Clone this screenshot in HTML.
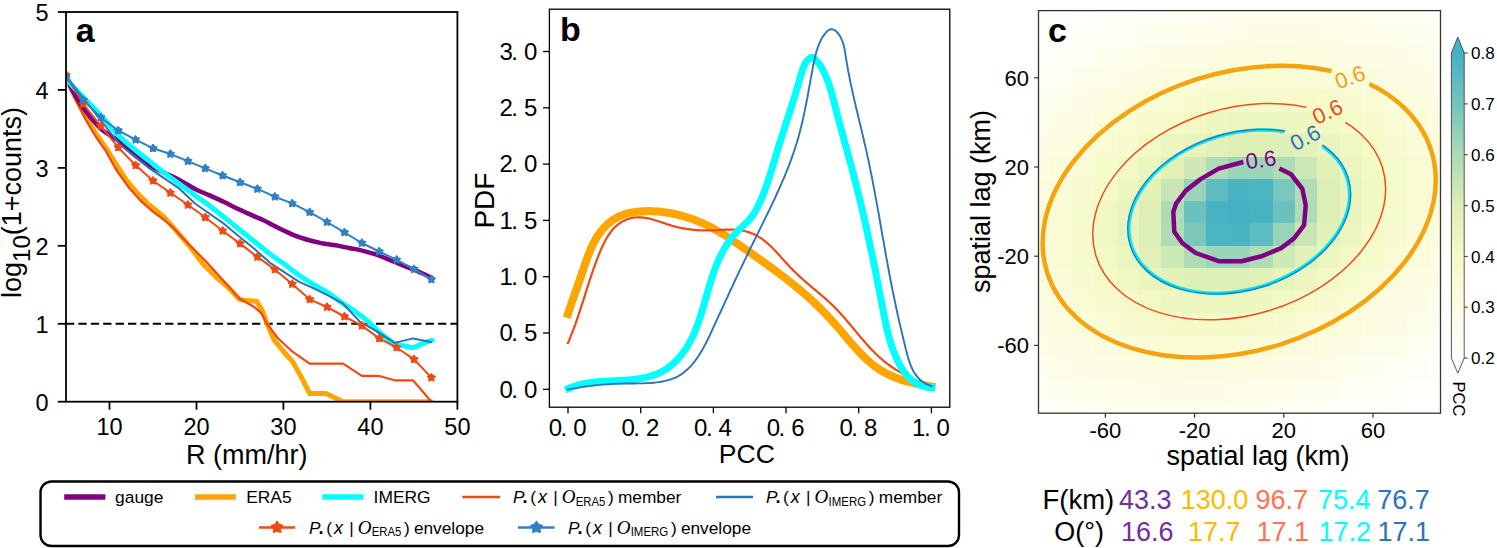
<!DOCTYPE html>
<html><head><meta charset="utf-8"><style>html,body{margin:0;padding:0;background:#fff;}svg{display:block;}</style></head>
<body>
<svg width="1497" height="548" viewBox="0 0 1497 548">
<rect width="1497" height="548" fill="#fff"/>
<defs><clipPath id="ca"><rect x="66" y="12" width="391.4" height="389.7"/></clipPath>
<clipPath id="cb"><rect x="549.4" y="9.2" width="400.4" height="398"/></clipPath>
<clipPath id="cc"><rect x="1038.5" y="10.6" width="402" height="402.6"/></clipPath></defs>
<g clip-path="url(#ca)" fill="none" stroke-linejoin="round" stroke-linecap="round">
<line x1="66" y1="323.8" x2="457.4" y2="323.8" stroke="#000" stroke-width="2" stroke-dasharray="8.3,4.1" stroke-linecap="butt"/>
<path d="M66.0,76.0 L67.6,80.0 L75.0,97.0 L85.9,117.4 L96.0,134.0 L107.3,150.0 L114.6,161.7 L121.9,173.4 L129.2,183.6 L138.0,193.8 L146.7,202.6 L155.5,209.9 L164.2,217.2 L170.0,223.6 L181.0,236.4 L191.9,249.2 L202.8,263.8 L215.6,276.6 L228.4,287.5 L239.3,299.4 L246.6,300.6 L256.7,301.2 L262.7,311.5 L267.5,324.9 L274.2,340.2 L283.7,351.7 L292.4,361.3 L301.0,376.6 L309.6,393.5 L325.9,393.5 L343.0,401.7 L431.4,401.7" stroke="#ffa500" stroke-width="5"/>
<path d="M66.0,77.0 L67.6,80.0 L75.0,98.0 L85.9,120.0 L96.0,137.0 L105.1,150.0 L117.5,171.9 L129.2,188.0 L140.9,201.1 L152.6,211.3 L164.2,220.0 L173.0,227.4 L188.2,243.7 L206.5,262.0 L224.7,282.0 L239.3,298.5 L253.9,306.7 L261.2,313.1 L266.5,323.0 L278.0,338.3 L291.4,350.8 L309.6,363.6 L343.1,363.6 L361.9,375.8 L378.3,375.8 L394.7,380.3 L413.0,380.3 L431.4,401.7" stroke="#f04a14" stroke-width="2.2"/>
<path d="M70.0,86.0 C72.0,89.4 77.1,99.4 82.2,106.5 C87.3,113.6 94.2,122.5 100.5,128.4 C106.8,134.3 114.3,137.5 120.0,141.9 C125.7,146.3 129.7,151.1 134.6,155.0 C139.5,158.9 144.3,162.4 149.2,165.3 C154.1,168.2 158.9,170.2 163.8,172.6 C168.7,175.0 173.2,176.8 178.4,179.5 C183.6,182.2 189.8,186.2 195.0,188.9 C200.2,191.6 204.7,193.2 209.6,195.4 C214.5,197.6 219.3,199.7 224.2,202.0 C229.1,204.3 233.9,207.0 238.8,209.3 C243.7,211.6 249.2,214.0 253.4,215.9 C257.6,217.8 260.4,218.8 264.0,220.5 C267.6,222.2 270.4,224.0 275.0,226.3 C279.6,228.6 286.6,232.1 291.9,234.3 C297.1,236.5 301.6,238.0 306.5,239.5 C311.4,241.0 316.2,242.1 321.1,243.1 C326.0,244.1 330.9,244.5 335.7,245.3 C340.5,246.2 346.2,247.5 350.0,248.2 C353.8,248.9 353.8,248.5 358.2,249.6 C362.6,250.7 370.4,252.6 376.5,254.7 C382.6,256.8 388.6,259.6 394.7,262.0 C400.8,264.4 406.9,266.7 413.0,269.3 C419.1,271.9 428.3,276.1 431.4,277.5" stroke="#800080" stroke-width="4.5"/>
<path d="M66.0,73.0 C66.3,73.8 66.7,76.1 67.6,78.0 C68.5,79.9 68.4,81.1 71.3,84.6 C74.2,88.1 80.1,93.9 85.0,99.0 C89.9,104.1 94.7,108.7 100.5,115.0 C106.3,121.3 114.3,131.1 120.0,136.8 C125.7,142.5 129.7,145.2 134.6,149.2 C139.5,153.2 144.3,157.0 149.2,160.9 C154.1,164.8 158.9,168.9 163.8,172.6 C168.7,176.3 173.2,179.4 178.4,183.2 C183.6,187.0 189.8,191.7 195.0,195.4 C200.2,199.2 204.7,202.0 209.6,205.7 C214.5,209.3 219.3,213.4 224.2,217.3 C229.1,221.2 233.9,225.1 238.8,229.0 C243.7,232.9 248.2,236.5 253.4,240.7 C258.6,244.9 264.8,250.2 270.0,254.1 C275.2,258.0 279.7,260.8 284.6,264.3 C289.5,267.8 294.3,271.9 299.2,275.3 C304.1,278.7 308.9,281.8 313.8,284.7 C318.7,287.6 324.0,290.0 328.4,292.8 C332.8,295.6 335.6,298.5 340.0,301.5 C344.4,304.5 350.0,307.8 354.6,311.0 C359.2,314.2 363.1,317.4 367.4,321.0 C371.6,324.6 375.6,329.1 380.1,332.9 C384.7,336.7 390.7,341.7 394.7,343.8 C398.7,345.9 400.8,345.1 403.9,345.7 C406.9,346.3 410.0,347.8 413.0,347.5 C416.0,347.2 418.9,345.0 422.1,343.8 C425.3,342.6 430.5,340.8 432.2,340.2" stroke="#00ffff" stroke-width="5"/>
<path d="M66.0,76.0 L80.0,94.0 L100.5,120.0 L120.0,144.8 L149.2,168.2 L178.4,187.8 L195.0,203.5 L209.6,213.7 L224.2,223.9 L238.8,236.3 L253.4,248.0 L270.0,262.8 L284.6,272.3 L299.2,281.8 L313.8,288.4 L328.4,295.7 L343.0,303.7 L360.1,321.9 L376.5,331.1 L394.7,342.9 L413.0,338.4 L431.2,342.0" stroke="#2a73b6" stroke-width="2"/>
<path d="M66.0,75.0 L83.4,104.0 L100.8,126.0 L118.2,147.4 L135.6,165.3 L153.0,180.7 L170.4,192.8 L187.8,204.8 L205.2,217.3 L222.6,230.8 L240.0,243.6 L257.4,256.9 L274.8,269.4 L292.2,284.0 L309.6,299.3 L327.0,307.0 L344.4,316.5 L361.8,325.6 L379.2,338.4 L396.6,347.5 L414.0,359.3 L431.4,377.6" stroke="#f04a14" stroke-width="2"/>
<path d="M66.0,77.0 L83.4,100.1 L100.8,117.5 L118.2,130.5 L135.6,139.7 L153.0,148.3 L170.4,154.0 L187.8,161.1 L205.2,168.3 L222.6,175.5 L240.0,182.3 L257.4,188.9 L274.8,196.7 L292.2,203.4 L309.6,212.2 L327.0,222.0 L344.4,232.3 L361.8,243.0 L379.2,251.5 L396.6,259.8 L414.0,269.2 L431.4,279.4" stroke="#3080c4" stroke-width="2"/>
</g>
<g clip-path="url(#ca)">
<polygon points="66.0,70.6 67.6,72.9 70.2,73.6 68.5,75.8 68.6,78.6 66.0,77.6 63.4,78.6 63.5,75.8 61.8,73.6 64.4,72.9" fill="#f04a14" stroke="#f04a14" stroke-width="1"/>
<polygon points="83.4,99.6 85.0,101.9 87.6,102.6 85.9,104.8 86.0,107.6 83.4,106.6 80.8,107.6 80.9,104.8 79.2,102.6 81.8,101.9" fill="#f04a14" stroke="#f04a14" stroke-width="1"/>
<polygon points="100.8,121.6 102.4,123.9 105.0,124.6 103.3,126.8 103.4,129.6 100.8,128.6 98.2,129.6 98.3,126.8 96.6,124.6 99.2,123.9" fill="#f04a14" stroke="#f04a14" stroke-width="1"/>
<polygon points="118.2,143.0 119.8,145.3 122.4,146.0 120.7,148.2 120.8,151.0 118.2,150.0 115.6,151.0 115.7,148.2 114.0,146.0 116.6,145.3" fill="#f04a14" stroke="#f04a14" stroke-width="1"/>
<polygon points="135.6,160.9 137.2,163.2 139.8,163.9 138.1,166.1 138.2,168.9 135.6,167.9 133.0,168.9 133.1,166.1 131.4,163.9 134.0,163.2" fill="#f04a14" stroke="#f04a14" stroke-width="1"/>
<polygon points="153.0,176.3 154.6,178.6 157.2,179.3 155.5,181.5 155.6,184.3 153.0,183.3 150.4,184.3 150.5,181.5 148.8,179.3 151.4,178.6" fill="#f04a14" stroke="#f04a14" stroke-width="1"/>
<polygon points="170.4,188.4 172.0,190.7 174.6,191.4 172.9,193.6 173.0,196.4 170.4,195.4 167.8,196.4 167.9,193.6 166.2,191.4 168.8,190.7" fill="#f04a14" stroke="#f04a14" stroke-width="1"/>
<polygon points="187.8,200.4 189.4,202.7 192.0,203.4 190.3,205.6 190.4,208.4 187.8,207.4 185.2,208.4 185.3,205.6 183.6,203.4 186.2,202.7" fill="#f04a14" stroke="#f04a14" stroke-width="1"/>
<polygon points="205.2,212.9 206.8,215.2 209.4,215.9 207.7,218.1 207.8,220.9 205.2,219.9 202.6,220.9 202.7,218.1 201.0,215.9 203.6,215.2" fill="#f04a14" stroke="#f04a14" stroke-width="1"/>
<polygon points="222.6,226.4 224.2,228.7 226.8,229.4 225.1,231.6 225.2,234.4 222.6,233.4 220.0,234.4 220.1,231.6 218.4,229.4 221.0,228.7" fill="#f04a14" stroke="#f04a14" stroke-width="1"/>
<polygon points="240.0,239.2 241.6,241.5 244.2,242.2 242.5,244.4 242.6,247.2 240.0,246.2 237.4,247.2 237.5,244.4 235.8,242.2 238.4,241.5" fill="#f04a14" stroke="#f04a14" stroke-width="1"/>
<polygon points="257.4,252.5 259.0,254.8 261.6,255.5 259.9,257.7 260.0,260.5 257.4,259.5 254.8,260.5 254.9,257.7 253.2,255.5 255.8,254.8" fill="#f04a14" stroke="#f04a14" stroke-width="1"/>
<polygon points="274.8,265.0 276.4,267.3 279.0,268.0 277.3,270.2 277.4,273.0 274.8,272.0 272.2,273.0 272.3,270.2 270.6,268.0 273.2,267.3" fill="#f04a14" stroke="#f04a14" stroke-width="1"/>
<polygon points="292.2,279.6 293.8,281.9 296.4,282.6 294.7,284.8 294.8,287.6 292.2,286.6 289.6,287.6 289.7,284.8 288.0,282.6 290.6,281.9" fill="#f04a14" stroke="#f04a14" stroke-width="1"/>
<polygon points="309.6,294.9 311.2,297.2 313.8,297.9 312.1,300.1 312.2,302.9 309.6,301.9 307.0,302.9 307.1,300.1 305.4,297.9 308.0,297.2" fill="#f04a14" stroke="#f04a14" stroke-width="1"/>
<polygon points="327.0,302.6 328.6,304.9 331.2,305.6 329.5,307.8 329.6,310.6 327.0,309.6 324.4,310.6 324.5,307.8 322.8,305.6 325.4,304.9" fill="#f04a14" stroke="#f04a14" stroke-width="1"/>
<polygon points="344.4,312.1 346.0,314.4 348.6,315.1 346.9,317.3 347.0,320.1 344.4,319.1 341.8,320.1 341.9,317.3 340.2,315.1 342.8,314.4" fill="#f04a14" stroke="#f04a14" stroke-width="1"/>
<polygon points="361.8,321.2 363.4,323.5 366.0,324.2 364.3,326.4 364.4,329.2 361.8,328.2 359.2,329.2 359.3,326.4 357.6,324.2 360.2,323.5" fill="#f04a14" stroke="#f04a14" stroke-width="1"/>
<polygon points="379.2,334.0 380.8,336.3 383.4,337.0 381.7,339.2 381.8,342.0 379.2,341.0 376.6,342.0 376.7,339.2 375.0,337.0 377.6,336.3" fill="#f04a14" stroke="#f04a14" stroke-width="1"/>
<polygon points="396.6,343.1 398.2,345.4 400.8,346.1 399.1,348.3 399.2,351.1 396.6,350.1 394.0,351.1 394.1,348.3 392.4,346.1 395.0,345.4" fill="#f04a14" stroke="#f04a14" stroke-width="1"/>
<polygon points="414.0,354.9 415.6,357.2 418.2,357.9 416.5,360.1 416.6,362.9 414.0,361.9 411.4,362.9 411.5,360.1 409.8,357.9 412.4,357.2" fill="#f04a14" stroke="#f04a14" stroke-width="1"/>
<polygon points="431.4,373.2 433.0,375.5 435.6,376.2 433.9,378.4 434.0,381.2 431.4,380.2 428.8,381.2 428.9,378.4 427.2,376.2 429.8,375.5" fill="#f04a14" stroke="#f04a14" stroke-width="1"/>
<polygon points="66.0,72.6 67.6,74.9 70.2,75.6 68.5,77.8 68.6,80.6 66.0,79.6 63.4,80.6 63.5,77.8 61.8,75.6 64.4,74.9" fill="#3080c4" stroke="#3080c4" stroke-width="1"/>
<polygon points="83.4,95.7 85.0,98.0 87.6,98.7 85.9,100.9 86.0,103.7 83.4,102.7 80.8,103.7 80.9,100.9 79.2,98.7 81.8,98.0" fill="#3080c4" stroke="#3080c4" stroke-width="1"/>
<polygon points="100.8,113.1 102.4,115.4 105.0,116.1 103.3,118.3 103.4,121.1 100.8,120.1 98.2,121.1 98.3,118.3 96.6,116.1 99.2,115.4" fill="#3080c4" stroke="#3080c4" stroke-width="1"/>
<polygon points="118.2,126.1 119.8,128.4 122.4,129.1 120.7,131.3 120.8,134.1 118.2,133.1 115.6,134.1 115.7,131.3 114.0,129.1 116.6,128.4" fill="#3080c4" stroke="#3080c4" stroke-width="1"/>
<polygon points="135.6,135.3 137.2,137.6 139.8,138.3 138.1,140.5 138.2,143.3 135.6,142.3 133.0,143.3 133.1,140.5 131.4,138.3 134.0,137.6" fill="#3080c4" stroke="#3080c4" stroke-width="1"/>
<polygon points="153.0,143.9 154.6,146.2 157.2,146.9 155.5,149.1 155.6,151.9 153.0,150.9 150.4,151.9 150.5,149.1 148.8,146.9 151.4,146.2" fill="#3080c4" stroke="#3080c4" stroke-width="1"/>
<polygon points="170.4,149.6 172.0,151.9 174.6,152.6 172.9,154.8 173.0,157.6 170.4,156.6 167.8,157.6 167.9,154.8 166.2,152.6 168.8,151.9" fill="#3080c4" stroke="#3080c4" stroke-width="1"/>
<polygon points="187.8,156.7 189.4,159.0 192.0,159.7 190.3,161.9 190.4,164.7 187.8,163.7 185.2,164.7 185.3,161.9 183.6,159.7 186.2,159.0" fill="#3080c4" stroke="#3080c4" stroke-width="1"/>
<polygon points="205.2,163.9 206.8,166.2 209.4,166.9 207.7,169.1 207.8,171.9 205.2,170.9 202.6,171.9 202.7,169.1 201.0,166.9 203.6,166.2" fill="#3080c4" stroke="#3080c4" stroke-width="1"/>
<polygon points="222.6,171.1 224.2,173.4 226.8,174.1 225.1,176.3 225.2,179.1 222.6,178.1 220.0,179.1 220.1,176.3 218.4,174.1 221.0,173.4" fill="#3080c4" stroke="#3080c4" stroke-width="1"/>
<polygon points="240.0,177.9 241.6,180.2 244.2,180.9 242.5,183.1 242.6,185.9 240.0,184.9 237.4,185.9 237.5,183.1 235.8,180.9 238.4,180.2" fill="#3080c4" stroke="#3080c4" stroke-width="1"/>
<polygon points="257.4,184.5 259.0,186.8 261.6,187.5 259.9,189.7 260.0,192.5 257.4,191.5 254.8,192.5 254.9,189.7 253.2,187.5 255.8,186.8" fill="#3080c4" stroke="#3080c4" stroke-width="1"/>
<polygon points="274.8,192.3 276.4,194.6 279.0,195.3 277.3,197.5 277.4,200.3 274.8,199.3 272.2,200.3 272.3,197.5 270.6,195.3 273.2,194.6" fill="#3080c4" stroke="#3080c4" stroke-width="1"/>
<polygon points="292.2,199.0 293.8,201.3 296.4,202.0 294.7,204.2 294.8,207.0 292.2,206.0 289.6,207.0 289.7,204.2 288.0,202.0 290.6,201.3" fill="#3080c4" stroke="#3080c4" stroke-width="1"/>
<polygon points="309.6,207.8 311.2,210.1 313.8,210.8 312.1,213.0 312.2,215.8 309.6,214.8 307.0,215.8 307.1,213.0 305.4,210.8 308.0,210.1" fill="#3080c4" stroke="#3080c4" stroke-width="1"/>
<polygon points="327.0,217.6 328.6,219.9 331.2,220.6 329.5,222.8 329.6,225.6 327.0,224.6 324.4,225.6 324.5,222.8 322.8,220.6 325.4,219.9" fill="#3080c4" stroke="#3080c4" stroke-width="1"/>
<polygon points="344.4,227.9 346.0,230.2 348.6,230.9 346.9,233.1 347.0,235.9 344.4,234.9 341.8,235.9 341.9,233.1 340.2,230.9 342.8,230.2" fill="#3080c4" stroke="#3080c4" stroke-width="1"/>
<polygon points="361.8,238.6 363.4,240.9 366.0,241.6 364.3,243.8 364.4,246.6 361.8,245.6 359.2,246.6 359.3,243.8 357.6,241.6 360.2,240.9" fill="#3080c4" stroke="#3080c4" stroke-width="1"/>
<polygon points="379.2,247.1 380.8,249.4 383.4,250.1 381.7,252.3 381.8,255.1 379.2,254.1 376.6,255.1 376.7,252.3 375.0,250.1 377.6,249.4" fill="#3080c4" stroke="#3080c4" stroke-width="1"/>
<polygon points="396.6,255.4 398.2,257.7 400.8,258.4 399.1,260.6 399.2,263.4 396.6,262.4 394.0,263.4 394.1,260.6 392.4,258.4 395.0,257.7" fill="#3080c4" stroke="#3080c4" stroke-width="1"/>
<polygon points="414.0,264.8 415.6,267.1 418.2,267.8 416.5,270.0 416.6,272.8 414.0,271.8 411.4,272.8 411.5,270.0 409.8,267.8 412.4,267.1" fill="#3080c4" stroke="#3080c4" stroke-width="1"/>
<polygon points="431.4,275.0 433.0,277.3 435.6,278.0 433.9,280.2 434.0,283.0 431.4,282.0 428.8,283.0 428.9,280.2 427.2,278.0 429.8,277.3" fill="#3080c4" stroke="#3080c4" stroke-width="1"/>
</g>
<rect x="66" y="12" width="391.4" height="389.7" fill="none" stroke="#000" stroke-width="1.8"/>
<line x1="57.8" y1="401.7" x2="66" y2="401.7" stroke="#000" stroke-width="1.8"/>
<text x="48.5" y="410.5" font-size="23.5" text-anchor="end" font-family="Liberation Sans, sans-serif">0</text>
<line x1="57.8" y1="323.8" x2="66" y2="323.8" stroke="#000" stroke-width="1.8"/>
<text x="48.5" y="332.6" font-size="23.5" text-anchor="end" font-family="Liberation Sans, sans-serif">1</text>
<line x1="57.8" y1="245.8" x2="66" y2="245.8" stroke="#000" stroke-width="1.8"/>
<text x="48.5" y="254.6" font-size="23.5" text-anchor="end" font-family="Liberation Sans, sans-serif">2</text>
<line x1="57.8" y1="167.9" x2="66" y2="167.9" stroke="#000" stroke-width="1.8"/>
<text x="48.5" y="176.7" font-size="23.5" text-anchor="end" font-family="Liberation Sans, sans-serif">3</text>
<line x1="57.8" y1="89.9" x2="66" y2="89.9" stroke="#000" stroke-width="1.8"/>
<text x="48.5" y="98.7" font-size="23.5" text-anchor="end" font-family="Liberation Sans, sans-serif">4</text>
<line x1="57.8" y1="12.0" x2="66" y2="12.0" stroke="#000" stroke-width="1.8"/>
<text x="48.5" y="20.8" font-size="23.5" text-anchor="end" font-family="Liberation Sans, sans-serif">5</text>
<line x1="109.5" y1="401.7" x2="109.5" y2="409.7" stroke="#000" stroke-width="1.8"/>
<text x="109.5" y="434.8" font-size="23.5" text-anchor="middle" font-family="Liberation Sans, sans-serif">10</text>
<line x1="196.5" y1="401.7" x2="196.5" y2="409.7" stroke="#000" stroke-width="1.8"/>
<text x="196.5" y="434.8" font-size="23.5" text-anchor="middle" font-family="Liberation Sans, sans-serif">20</text>
<line x1="283.4" y1="401.7" x2="283.4" y2="409.7" stroke="#000" stroke-width="1.8"/>
<text x="283.4" y="434.8" font-size="23.5" text-anchor="middle" font-family="Liberation Sans, sans-serif">30</text>
<line x1="370.4" y1="401.7" x2="370.4" y2="409.7" stroke="#000" stroke-width="1.8"/>
<text x="370.4" y="434.8" font-size="23.5" text-anchor="middle" font-family="Liberation Sans, sans-serif">40</text>
<line x1="457.4" y1="401.7" x2="457.4" y2="409.7" stroke="#000" stroke-width="1.8"/>
<text x="457.4" y="434.8" font-size="23.5" text-anchor="middle" font-family="Liberation Sans, sans-serif">50</text>
<text x="186" y="463.6" font-size="27" font-family="Liberation Sans, sans-serif">R (mm/hr)</text>
<g transform="translate(20.5,298) rotate(-90)"><text x="0" y="0" font-size="27" font-family="Liberation Sans, sans-serif">log<tspan font-size="24" dy="9">10</tspan><tspan dy="-9">(1+counts)</tspan></text></g>
<text x="75.8" y="42.3" font-size="34" font-weight="bold" font-family="Liberation Sans, sans-serif">a</text>
<g clip-path="url(#cb)" fill="none" stroke-linejoin="round" stroke-linecap="square">
<path d="M567.9,313.9 L568.4,312.3 L568.9,310.8 L569.4,309.3 L569.9,307.7 L570.5,306.2 L571.0,304.7 L571.5,303.2 L572.0,301.7 L572.6,300.2 L573.1,298.7 L573.6,297.2 L574.2,295.6 L574.7,294.1 L575.2,292.6 L575.8,291.1 L576.3,289.6 L576.8,288.1 L577.4,286.6 L577.9,285.1 L578.4,283.6 L579.0,282.1 L579.5,280.5 L580.0,279.0 L580.5,277.5 L581.1,275.9 L581.6,274.4 L582.1,272.8 L582.6,271.2 L583.2,269.7 L583.7,268.1 L584.2,266.5 L584.8,264.9 L585.3,263.3 L585.9,261.7 L586.4,260.1 L587.0,258.6 L587.6,257.0 L588.2,255.4 L588.8,253.9 L589.4,252.3 L590.0,250.8 L590.7,249.2 L591.3,247.7 L592.0,246.2 L592.7,244.7 L593.5,243.2 L594.2,241.8 L595.0,240.3 L595.8,238.9 L596.7,237.5 L597.5,236.1 L598.4,234.8 L599.3,233.5 L600.3,232.2 L601.3,230.9 L602.3,229.6 L603.4,228.4 L604.4,227.3 L605.5,226.1 L606.7,225.0 L607.8,223.9 L609.0,222.9 L610.2,221.9 L611.5,221.0 L612.8,220.1 L614.1,219.2 L615.4,218.4 L616.7,217.6 L618.1,216.9 L619.5,216.2 L621.0,215.6 L622.4,215.0 L623.9,214.5 L625.4,214.0 L626.9,213.6 L628.4,213.2 L630.0,212.9 L631.6,212.6 L633.1,212.3 L634.7,212.1 L636.3,211.9 L637.9,211.7 L639.5,211.5 L641.2,211.4 L642.8,211.3 L644.4,211.2 L646.0,211.2 L647.7,211.1 L649.3,211.1 L650.9,211.2 L652.6,211.2 L654.2,211.3 L655.9,211.4 L657.5,211.5 L659.1,211.6 L660.8,211.8 L662.4,212.0 L664.1,212.2 L665.7,212.4 L667.3,212.7 L669.0,212.9 L670.6,213.2 L672.2,213.5 L673.9,213.9 L675.5,214.2 L677.1,214.6 L678.7,215.0 L680.3,215.4 L681.9,215.8 L683.5,216.3 L685.1,216.7 L686.7,217.2 L688.3,217.7 L689.8,218.2 L691.4,218.8 L693.0,219.3 L694.5,219.9 L696.1,220.5 L697.6,221.1 L699.1,221.7 L700.6,222.4 L702.1,223.0 L703.6,223.7 L705.1,224.3 L706.5,225.0 L708.0,225.7 L709.4,226.5 L710.8,227.2 L712.3,227.9 L713.7,228.7 L715.1,229.5 L716.5,230.3 L717.9,231.1 L719.2,231.9 L720.6,232.7 L722.0,233.5 L723.3,234.3 L724.7,235.2 L726.0,236.0 L727.3,236.9 L728.7,237.7 L730.0,238.6 L731.3,239.5 L732.7,240.4 L734.0,241.3 L735.3,242.2 L736.6,243.1 L737.9,244.0 L739.2,244.9 L740.5,245.8 L741.8,246.7 L743.2,247.7 L744.5,248.6 L745.8,249.5 L747.1,250.4 L748.4,251.4 L749.7,252.3 L751.1,253.2 L752.4,254.2 L753.7,255.1 L755.0,256.1 L756.4,257.0 L757.7,257.9 L759.0,258.9 L760.3,259.8 L761.7,260.8 L763.0,261.7 L764.3,262.7 L765.7,263.6 L767.0,264.6 L768.3,265.5 L769.6,266.5 L771.0,267.5 L772.3,268.4 L773.6,269.4 L774.9,270.4 L776.2,271.3 L777.6,272.3 L778.9,273.3 L780.2,274.3 L781.5,275.3 L782.8,276.3 L784.1,277.2 L785.4,278.2 L786.7,279.2 L788.0,280.2 L789.2,281.2 L790.5,282.3 L791.8,283.3 L793.1,284.3 L794.3,285.3 L795.6,286.3 L796.8,287.4 L798.1,288.4 L799.3,289.4 L800.6,290.5 L801.8,291.5 L803.0,292.6 L804.2,293.6 L805.5,294.7 L806.7,295.7 L807.9,296.8 L809.1,297.9 L810.2,298.9 L811.4,300.0 L812.6,301.1 L813.8,302.2 L814.9,303.3 L816.1,304.4 L817.3,305.5 L818.4,306.6 L819.6,307.8 L820.7,308.9 L821.8,310.0 L823.0,311.2 L824.1,312.3 L825.2,313.5 L826.3,314.6 L827.4,315.8 L828.5,317.0 L829.6,318.1 L830.7,319.3 L831.8,320.5 L832.9,321.7 L834.0,322.9 L835.0,324.1 L836.1,325.4 L837.2,326.6 L838.2,327.8 L839.3,329.1 L840.4,330.3 L841.4,331.6 L842.5,332.8 L843.5,334.1 L844.6,335.3 L845.6,336.6 L846.7,337.8 L847.8,339.1 L848.8,340.3 L849.9,341.6 L851.0,342.8 L852.0,344.1 L853.1,345.3 L854.2,346.5 L855.3,347.7 L856.4,349.0 L857.5,350.2 L858.6,351.3 L859.7,352.5 L860.8,353.7 L862.0,354.9 L863.1,356.0 L864.3,357.1 L865.4,358.2 L866.6,359.3 L867.8,360.4 L869.0,361.5 L870.2,362.5 L871.5,363.6 L872.7,364.6 L874.0,365.6 L875.3,366.5 L876.6,367.5 L877.9,368.4 L879.2,369.3 L880.6,370.1 L881.9,371.0 L883.3,371.8 L884.7,372.6 L886.2,373.3 L887.6,374.1 L889.1,374.8 L890.5,375.5 L892.0,376.1 L893.5,376.8 L895.1,377.4 L896.6,378.0 L898.1,378.5 L899.7,379.1 L901.3,379.6 L902.8,380.1 L904.4,380.6 L906.0,381.1 L907.6,381.5 L909.2,381.9 L910.8,382.4 L912.4,382.8 L914.0,383.1 L915.6,383.5 L917.2,383.9 L918.8,384.2 L920.4,384.5 L922.0,384.8 L923.5,385.1 L925.1,385.4 L926.7,385.7 L928.3,386.0 L929.9,386.2 L931.4,386.5" stroke="#ffa500" stroke-width="8"/>
<path d="M567.9,343.1 L568.6,341.5 L569.3,339.8 L569.9,338.2 L570.6,336.6 L571.2,335.0 L571.9,333.4 L572.5,331.8 L573.1,330.2 L573.7,328.5 L574.3,326.9 L574.9,325.3 L575.5,323.8 L576.0,322.2 L576.6,320.6 L577.1,319.0 L577.7,317.4 L578.2,315.8 L578.8,314.2 L579.3,312.6 L579.8,311.1 L580.3,309.5 L580.8,307.9 L581.3,306.3 L581.8,304.7 L582.4,303.2 L582.9,301.6 L583.4,300.0 L583.9,298.4 L584.4,296.8 L584.9,295.3 L585.4,293.7 L585.9,292.1 L586.4,290.5 L586.9,288.9 L587.4,287.3 L587.9,285.8 L588.4,284.2 L588.9,282.6 L589.4,281.0 L589.9,279.4 L590.5,277.8 L591.0,276.2 L591.6,274.6 L592.1,272.9 L592.7,271.3 L593.2,269.7 L593.8,268.1 L594.4,266.5 L595.0,264.8 L595.6,263.2 L596.2,261.5 L596.8,259.9 L597.4,258.2 L598.1,256.6 L598.7,254.9 L599.4,253.3 L600.1,251.6 L600.8,249.9 L601.5,248.3 L602.2,246.7 L603.0,245.0 L603.8,243.4 L604.6,241.9 L605.4,240.3 L606.3,238.8 L607.2,237.3 L608.1,235.8 L609.0,234.4 L610.0,233.0 L611.0,231.6 L612.0,230.3 L613.1,229.0 L614.2,227.8 L615.4,226.7 L616.6,225.6 L617.8,224.6 L619.1,223.6 L620.4,222.7 L621.8,221.9 L623.2,221.1 L624.6,220.4 L626.0,219.8 L627.5,219.2 L629.0,218.7 L630.6,218.3 L632.1,217.9 L633.7,217.7 L635.3,217.5 L636.9,217.3 L638.6,217.3 L640.2,217.3 L641.8,217.4 L643.5,217.6 L645.1,217.8 L646.8,218.1 L648.4,218.4 L650.1,218.8 L651.8,219.2 L653.5,219.7 L655.1,220.2 L656.8,220.7 L658.5,221.3 L660.2,221.8 L661.9,222.4 L663.6,222.9 L665.2,223.5 L666.9,224.1 L668.6,224.6 L670.3,225.1 L671.9,225.7 L673.6,226.1 L675.2,226.6 L676.9,227.0 L678.5,227.4 L680.2,227.8 L681.8,228.1 L683.5,228.4 L685.1,228.7 L686.8,229.0 L688.4,229.2 L690.0,229.4 L691.7,229.6 L693.3,229.8 L695.0,229.9 L696.6,230.1 L698.2,230.2 L699.9,230.3 L701.5,230.3 L703.2,230.4 L704.9,230.4 L706.5,230.4 L708.2,230.4 L709.9,230.4 L711.5,230.4 L713.2,230.3 L714.9,230.3 L716.6,230.2 L718.3,230.1 L720.0,230.0 L721.7,229.9 L723.5,229.8 L725.2,229.7 L726.9,229.6 L728.6,229.6 L730.3,229.6 L732.0,229.6 L733.7,229.6 L735.4,229.7 L737.1,229.8 L738.8,230.0 L740.4,230.2 L742.1,230.5 L743.7,230.8 L745.3,231.2 L746.9,231.6 L748.5,232.1 L750.0,232.6 L751.6,233.2 L753.1,233.8 L754.6,234.5 L756.0,235.2 L757.4,236.0 L758.8,236.9 L760.2,237.7 L761.6,238.7 L762.9,239.6 L764.2,240.6 L765.5,241.7 L766.8,242.7 L768.1,243.8 L769.3,245.0 L770.6,246.1 L771.8,247.3 L773.0,248.5 L774.2,249.7 L775.4,251.0 L776.6,252.2 L777.7,253.5 L778.9,254.8 L780.1,256.1 L781.2,257.4 L782.4,258.7 L783.6,260.0 L784.7,261.3 L785.9,262.6 L787.1,263.8 L788.3,265.1 L789.4,266.4 L790.6,267.7 L791.8,268.9 L793.0,270.1 L794.2,271.4 L795.5,272.6 L796.7,273.7 L797.9,274.9 L799.2,276.1 L800.4,277.2 L801.7,278.3 L803.0,279.5 L804.2,280.6 L805.5,281.7 L806.8,282.8 L808.1,283.9 L809.3,285.0 L810.6,286.1 L811.9,287.2 L813.2,288.3 L814.5,289.3 L815.8,290.4 L817.0,291.5 L818.3,292.6 L819.6,293.7 L820.9,294.7 L822.1,295.8 L823.4,296.9 L824.7,298.0 L825.9,299.1 L827.2,300.3 L828.4,301.4 L829.6,302.5 L830.8,303.6 L832.1,304.8 L833.3,306.0 L834.5,307.1 L835.6,308.3 L836.8,309.5 L838.0,310.8 L839.1,312.0 L840.3,313.2 L841.4,314.5 L842.5,315.7 L843.7,317.0 L844.8,318.3 L845.9,319.6 L847.0,320.9 L848.1,322.2 L849.2,323.5 L850.3,324.8 L851.4,326.1 L852.5,327.4 L853.6,328.7 L854.7,330.0 L855.8,331.4 L856.9,332.7 L857.9,334.0 L859.0,335.3 L860.1,336.6 L861.2,337.9 L862.4,339.2 L863.5,340.5 L864.6,341.8 L865.7,343.1 L866.8,344.4 L868.0,345.6 L869.1,346.9 L870.3,348.1 L871.4,349.4 L872.6,350.6 L873.8,351.8 L875.0,353.0 L876.2,354.2 L877.4,355.3 L878.6,356.5 L879.9,357.6 L881.2,358.7 L882.4,359.8 L883.7,360.9 L885.0,362.0 L886.4,363.0 L887.7,364.0 L889.0,365.0 L890.4,366.0 L891.8,367.0 L893.2,367.9 L894.6,368.8 L896.0,369.8 L897.5,370.6 L898.9,371.5 L900.4,372.4 L901.8,373.2 L903.3,374.0 L904.8,374.8 L906.3,375.6 L907.8,376.4 L909.3,377.1 L910.9,377.9 L912.4,378.6 L913.9,379.3 L915.5,380.0 L917.1,380.7 L918.6,381.3 L920.2,382.0 L921.8,382.6 L923.4,383.2 L925.0,383.8 L926.6,384.4 L928.2,384.9 L929.8,385.5 L931.4,386.0" stroke="#f04a14" stroke-width="2.2"/>
<path d="M568.4,388.6 L570.8,387.6 L573.2,386.6 L575.7,385.8 L578.3,385.0 L580.8,384.4 L583.5,383.8 L586.1,383.3 L588.8,382.8 L591.5,382.5 L594.2,382.1 L597.0,381.9 L599.7,381.6 L602.5,381.4 L605.3,381.2 L608.1,381.1 L610.9,380.9 L613.8,380.8 L616.6,380.6 L619.4,380.5 L622.2,380.3 L625.0,380.2 L627.8,379.9 L630.6,379.7 L633.3,379.4 L636.1,379.1 L638.8,378.7 L641.5,378.3 L644.1,377.8 L646.8,377.2 L649.3,376.5 L651.9,375.7 L654.4,374.9 L656.9,373.9 L659.3,372.9 L661.7,371.7 L664.0,370.4 L666.2,369.0 L668.4,367.5 L670.6,365.8 L672.7,364.0 L674.7,362.2 L676.6,360.3 L678.5,358.2 L680.3,356.1 L682.0,354.0 L683.7,351.8 L685.3,349.6 L686.8,347.3 L688.2,345.0 L689.5,342.6 L690.8,340.2 L692.0,337.8 L693.2,335.4 L694.3,332.9 L695.3,330.4 L696.3,327.9 L697.3,325.4 L698.2,322.8 L699.1,320.3 L700.0,317.7 L700.8,315.1 L701.6,312.4 L702.4,309.8 L703.2,307.2 L704.0,304.5 L704.7,301.8 L705.5,299.2 L706.3,296.5 L707.0,293.8 L707.8,291.2 L708.6,288.5 L709.4,285.8 L710.2,283.2 L711.0,280.5 L711.8,277.9 L712.7,275.3 L713.6,272.7 L714.5,270.1 L715.5,267.5 L716.5,265.0 L717.5,262.5 L718.6,260.0 L719.7,257.5 L720.9,255.1 L722.1,252.7 L723.3,250.3 L724.7,248.0 L726.0,245.7 L727.5,243.5 L729.0,241.3 L730.6,239.1 L732.2,237.0 L734.0,235.0 L735.8,233.0 L737.7,231.0 L739.6,229.1 L741.6,227.3 L743.6,225.4 L745.6,223.5 L747.5,221.6 L749.3,219.6 L751.0,217.6 L752.6,215.5 L754.1,213.3 L755.4,211.0 L756.7,208.7 L757.9,206.3 L759.1,203.9 L760.2,201.5 L761.3,199.0 L762.3,196.6 L763.4,194.0 L764.3,191.5 L765.3,188.9 L766.2,186.3 L767.1,183.7 L768.0,181.1 L768.9,178.5 L769.7,175.8 L770.6,173.2 L771.4,170.5 L772.2,167.9 L773.0,165.2 L773.8,162.6 L774.6,159.9 L775.3,157.3 L776.1,154.6 L776.9,152.0 L777.7,149.4 L778.5,146.8 L779.3,144.2 L780.2,141.6 L781.0,139.0 L781.8,136.4 L782.6,133.9 L783.4,131.3 L784.3,128.7 L785.1,126.2 L785.9,123.6 L786.7,121.1 L787.6,118.5 L788.4,115.9 L789.2,113.4 L790.1,110.8 L790.9,108.2 L791.7,105.6 L792.5,103.0 L793.4,100.4 L794.2,97.8 L795.0,95.1 L795.8,92.5 L796.6,89.8 L797.4,87.1 L798.2,84.4 L799.0,81.7 L799.7,79.0 L800.5,76.2 L801.3,73.4 L802.1,70.7 L803.1,67.9 L804.2,65.3 L805.6,62.7 L807.3,60.4 L809.2,58.5 L811.2,57.4 L813.1,57.6 L814.9,58.8 L816.5,60.7 L818.1,62.6 L819.6,64.7 L821.0,66.8 L822.3,69.0 L823.5,71.3 L824.7,73.7 L825.7,76.1 L826.8,78.5 L827.8,81.1 L828.7,83.6 L829.6,86.3 L830.4,88.9 L831.2,91.6 L832.0,94.3 L832.7,97.0 L833.4,99.7 L834.1,102.5 L834.8,105.2 L835.5,107.9 L836.2,110.7 L836.9,113.4 L837.6,116.1 L838.3,118.8 L839.1,121.5 L839.8,124.2 L840.5,126.8 L841.2,129.5 L841.9,132.1 L842.7,134.8 L843.4,137.4 L844.1,140.1 L844.8,142.7 L845.5,145.3 L846.3,147.9 L847.0,150.5 L847.7,153.2 L848.4,155.8 L849.1,158.4 L849.8,161.0 L850.6,163.6 L851.3,166.2 L852.0,168.8 L852.6,171.4 L853.3,174.0 L854.0,176.7 L854.7,179.3 L855.4,181.9 L856.0,184.5 L856.7,187.2 L857.4,189.8 L858.0,192.4 L858.7,195.1 L859.3,197.7 L859.9,200.3 L860.6,203.0 L861.2,205.6 L861.8,208.3 L862.5,210.9 L863.1,213.6 L863.7,216.2 L864.3,218.9 L864.9,221.5 L865.5,224.2 L866.1,226.9 L866.7,229.5 L867.3,232.2 L867.9,234.9 L868.4,237.5 L869.0,240.2 L869.6,242.9 L870.2,245.6 L870.7,248.2 L871.3,250.9 L871.8,253.6 L872.4,256.3 L873.0,259.0 L873.5,261.7 L874.1,264.3 L874.6,267.0 L875.2,269.7 L875.7,272.4 L876.2,275.1 L876.8,277.8 L877.3,280.5 L877.8,283.2 L878.4,285.9 L878.9,288.6 L879.4,291.3 L879.9,294.0 L880.5,296.7 L881.0,299.4 L881.5,302.1 L882.0,304.8 L882.5,307.5 L883.1,310.2 L883.6,312.9 L884.1,315.6 L884.6,318.2 L885.2,320.9 L885.8,323.6 L886.3,326.3 L886.9,329.0 L887.6,331.6 L888.2,334.2 L888.9,336.9 L889.7,339.5 L890.4,342.1 L891.2,344.7 L892.1,347.2 L893.0,349.8 L894.0,352.3 L895.0,354.8 L896.0,357.3 L897.2,359.8 L898.3,362.2 L899.6,364.6 L900.9,366.9 L902.3,369.2 L903.9,371.5 L905.5,373.6 L907.2,375.7 L909.0,377.6 L910.9,379.4 L913.0,381.1 L915.2,382.6 L917.6,383.9 L920.1,385.1 L922.7,386.0 L925.5,386.8 L928.5,387.3 L931.7,387.6" stroke="#00ffff" stroke-width="7"/>
<path d="M567.8,389.5 L571.0,388.9 L574.1,388.4 L577.1,387.9 L580.1,387.4 L583.0,386.9 L585.9,386.5 L588.8,386.1 L591.6,385.8 L594.4,385.4 L597.2,385.1 L600.0,384.9 L602.8,384.6 L605.6,384.4 L608.4,384.2 L611.2,384.0 L614.0,383.9 L616.8,383.8 L619.7,383.7 L622.6,383.6 L625.6,383.5 L628.6,383.5 L631.7,383.5 L634.7,383.5 L637.8,383.4 L641.0,383.4 L644.1,383.3 L647.2,383.1 L650.3,383.0 L653.4,382.7 L656.4,382.4 L659.4,382.0 L662.4,381.5 L665.3,380.9 L668.1,380.2 L670.8,379.3 L673.5,378.4 L676.0,377.3 L678.5,376.0 L680.8,374.6 L683.1,373.0 L685.2,371.3 L687.3,369.5 L689.3,367.6 L691.2,365.6 L693.0,363.5 L694.8,361.2 L696.5,358.9 L698.2,356.5 L699.7,354.1 L701.3,351.6 L702.8,349.0 L704.2,346.3 L705.6,343.7 L707.0,341.0 L708.3,338.2 L709.7,335.5 L711.0,332.7 L712.2,329.9 L713.5,327.2 L714.8,324.4 L716.0,321.7 L717.3,318.9 L718.5,316.2 L719.8,313.5 L721.0,310.8 L722.2,308.1 L723.5,305.4 L724.7,302.8 L725.9,300.1 L727.2,297.5 L728.4,294.8 L729.6,292.2 L730.8,289.5 L732.1,286.9 L733.3,284.3 L734.5,281.7 L735.7,279.0 L737.0,276.4 L738.2,273.8 L739.4,271.2 L740.7,268.6 L741.9,266.0 L743.2,263.4 L744.4,260.8 L745.7,258.2 L746.9,255.6 L748.2,253.0 L749.5,250.3 L750.7,247.7 L752.0,245.1 L753.3,242.5 L754.6,239.9 L755.9,237.2 L757.2,234.6 L758.5,232.0 L759.8,229.3 L761.1,226.7 L762.4,224.1 L763.7,221.4 L765.0,218.7 L766.3,216.1 L767.6,213.4 L768.9,210.8 L770.2,208.1 L771.5,205.4 L772.8,202.7 L774.0,200.1 L775.3,197.4 L776.5,194.7 L777.7,192.0 L778.9,189.3 L780.1,186.6 L781.3,183.9 L782.5,181.2 L783.7,178.5 L784.8,175.8 L785.9,173.0 L787.0,170.3 L788.1,167.6 L789.2,164.8 L790.2,162.1 L791.2,159.4 L792.2,156.6 L793.2,153.8 L794.1,151.1 L795.0,148.3 L795.9,145.6 L796.8,142.8 L797.6,140.0 L798.4,137.2 L799.2,134.4 L799.9,131.6 L800.6,128.8 L801.3,126.0 L802.0,123.2 L802.7,120.4 L803.3,117.6 L803.9,114.7 L804.5,111.9 L805.1,109.0 L805.7,106.1 L806.3,103.3 L806.8,100.4 L807.4,97.5 L807.9,94.5 L808.4,91.6 L809.0,88.7 L809.5,85.7 L810.1,82.7 L810.6,79.7 L811.1,76.7 L811.7,73.7 L812.3,70.7 L812.8,67.6 L813.4,64.5 L814.0,61.5 L814.7,58.5 L815.4,55.5 L816.2,52.6 L817.0,49.7 L818.0,46.9 L819.0,44.2 L820.2,41.6 L821.4,39.1 L822.8,36.8 L824.3,34.6 L826.0,32.5 L827.8,30.7 L829.7,29.5 L831.7,29.1 L833.7,29.7 L835.7,30.9 L837.6,32.9 L839.4,35.2 L841.0,38.0 L842.3,40.9 L843.3,43.8 L844.1,46.8 L844.7,49.8 L845.2,52.8 L845.6,55.7 L846.1,58.7 L846.6,61.7 L847.1,64.6 L847.6,67.6 L848.1,70.5 L848.7,73.4 L849.3,76.3 L849.8,79.3 L850.4,82.2 L851.0,85.0 L851.7,87.9 L852.3,90.8 L852.9,93.7 L853.6,96.5 L854.2,99.4 L854.9,102.3 L855.6,105.1 L856.2,108.0 L856.9,110.8 L857.6,113.7 L858.3,116.5 L858.9,119.3 L859.6,122.2 L860.3,125.0 L861.0,127.9 L861.7,130.7 L862.3,133.5 L863.0,136.4 L863.7,139.2 L864.3,142.0 L865.0,144.9 L865.6,147.7 L866.3,150.6 L866.9,153.4 L867.5,156.3 L868.2,159.2 L868.8,162.0 L869.4,164.9 L870.0,167.7 L870.5,170.6 L871.1,173.5 L871.7,176.4 L872.3,179.3 L872.8,182.1 L873.4,185.0 L873.9,187.9 L874.5,190.8 L875.0,193.7 L875.5,196.6 L876.1,199.5 L876.6,202.4 L877.1,205.3 L877.6,208.2 L878.2,211.0 L878.7,213.9 L879.2,216.8 L879.7,219.7 L880.2,222.6 L880.7,225.5 L881.2,228.4 L881.7,231.3 L882.2,234.2 L882.7,237.1 L883.3,240.0 L883.8,242.9 L884.3,245.8 L884.8,248.7 L885.3,251.6 L885.8,254.5 L886.3,257.4 L886.9,260.3 L887.4,263.2 L887.9,266.1 L888.5,269.0 L889.0,271.8 L889.5,274.7 L890.1,277.6 L890.6,280.5 L891.2,283.3 L891.8,286.2 L892.3,289.1 L892.9,291.9 L893.5,294.8 L894.1,297.7 L894.7,300.5 L895.3,303.4 L895.9,306.2 L896.5,309.1 L897.1,312.0 L897.7,314.8 L898.4,317.7 L899.0,320.5 L899.7,323.4 L900.3,326.3 L901.0,329.1 L901.7,332.0 L902.4,334.9 L903.1,337.8 L903.8,340.7 L904.5,343.6 L905.2,346.5 L905.9,349.4 L906.7,352.3 L907.4,355.2 L908.2,358.1 L909.1,360.9 L910.1,363.7 L911.1,366.4 L912.3,369.0 L913.6,371.5 L915.1,373.9 L916.8,376.2 L918.6,378.3 L920.7,380.2 L923.0,382.0 L925.6,383.6 L928.4,384.9 L931.6,386.0" stroke="#2a73b6" stroke-width="1.9"/>
</g>
<rect x="549.4" y="9.2" width="400.4" height="398.0" fill="none" stroke="#000" stroke-width="1.3"/>
<line x1="543" y1="389.3" x2="549.4" y2="389.3" stroke="#000" stroke-width="1.3"/>
<text y="397.6" font-size="24" font-family="Liberation Sans, sans-serif"><tspan x="499.5">0</tspan><tspan x="511.3">.</tspan><tspan x="524.0">0</tspan></text>
<line x1="543" y1="333.0" x2="549.4" y2="333.0" stroke="#000" stroke-width="1.3"/>
<text y="341.3" font-size="24" font-family="Liberation Sans, sans-serif"><tspan x="499.5">0</tspan><tspan x="511.3">.</tspan><tspan x="524.0">5</tspan></text>
<line x1="543" y1="276.7" x2="549.4" y2="276.7" stroke="#000" stroke-width="1.3"/>
<text y="285.0" font-size="24" font-family="Liberation Sans, sans-serif"><tspan x="499.5">1</tspan><tspan x="511.3">.</tspan><tspan x="524.0">0</tspan></text>
<line x1="543" y1="220.4" x2="549.4" y2="220.4" stroke="#000" stroke-width="1.3"/>
<text y="228.7" font-size="24" font-family="Liberation Sans, sans-serif"><tspan x="499.5">1</tspan><tspan x="511.3">.</tspan><tspan x="524.0">5</tspan></text>
<line x1="543" y1="164.1" x2="549.4" y2="164.1" stroke="#000" stroke-width="1.3"/>
<text y="172.4" font-size="24" font-family="Liberation Sans, sans-serif"><tspan x="499.5">2</tspan><tspan x="511.3">.</tspan><tspan x="524.0">0</tspan></text>
<line x1="543" y1="107.8" x2="549.4" y2="107.8" stroke="#000" stroke-width="1.3"/>
<text y="116.1" font-size="24" font-family="Liberation Sans, sans-serif"><tspan x="499.5">2</tspan><tspan x="511.3">.</tspan><tspan x="524.0">5</tspan></text>
<line x1="543" y1="51.5" x2="549.4" y2="51.5" stroke="#000" stroke-width="1.3"/>
<text y="59.8" font-size="24" font-family="Liberation Sans, sans-serif"><tspan x="499.5">3</tspan><tspan x="511.3">.</tspan><tspan x="524.0">0</tspan></text>
<line x1="568.0" y1="407.2" x2="568.0" y2="413.2" stroke="#000" stroke-width="1.3"/>
<text y="436.0" font-size="24" font-family="Liberation Sans, sans-serif"><tspan x="548.7">0</tspan><tspan x="560.5">.</tspan><tspan x="573.2">0</tspan></text>
<line x1="640.7" y1="407.2" x2="640.7" y2="413.2" stroke="#000" stroke-width="1.3"/>
<text y="436.0" font-size="24" font-family="Liberation Sans, sans-serif"><tspan x="621.4">0</tspan><tspan x="633.2">.</tspan><tspan x="645.9">2</tspan></text>
<line x1="713.4" y1="407.2" x2="713.4" y2="413.2" stroke="#000" stroke-width="1.3"/>
<text y="436.0" font-size="24" font-family="Liberation Sans, sans-serif"><tspan x="694.1">0</tspan><tspan x="705.9">.</tspan><tspan x="718.6">4</tspan></text>
<line x1="786.0" y1="407.2" x2="786.0" y2="413.2" stroke="#000" stroke-width="1.3"/>
<text y="436.0" font-size="24" font-family="Liberation Sans, sans-serif"><tspan x="766.7">0</tspan><tspan x="778.5">.</tspan><tspan x="791.2">6</tspan></text>
<line x1="858.7" y1="407.2" x2="858.7" y2="413.2" stroke="#000" stroke-width="1.3"/>
<text y="436.0" font-size="24" font-family="Liberation Sans, sans-serif"><tspan x="839.4">0</tspan><tspan x="851.2">.</tspan><tspan x="863.9">8</tspan></text>
<line x1="931.4" y1="407.2" x2="931.4" y2="413.2" stroke="#000" stroke-width="1.3"/>
<text y="436.0" font-size="24" font-family="Liberation Sans, sans-serif"><tspan x="912.1">1</tspan><tspan x="923.9">.</tspan><tspan x="936.6">0</tspan></text>
<text x="746.8" y="463.2" font-size="26.5" text-anchor="middle" font-family="Liberation Sans, sans-serif">PCC</text>
<g transform="translate(494.3,228.6) rotate(-90)"><text x="0" y="0" font-size="28" font-family="Liberation Sans, sans-serif">PDF</text></g>
<text x="560" y="41" font-size="34" font-weight="bold" font-family="Liberation Sans, sans-serif">b</text>
<g clip-path="url(#cc)" shape-rendering="crispEdges">
<rect x="1027.4" y="401.1" width="22.9" height="22.9" fill="#fefef6"/>
<rect x="1027.4" y="378.9" width="22.9" height="22.9" fill="#fefef2"/>
<rect x="1027.4" y="356.5" width="22.9" height="22.9" fill="#fefeee"/>
<rect x="1027.4" y="334.2" width="22.9" height="22.9" fill="#fdfde9"/>
<rect x="1027.4" y="311.9" width="22.9" height="22.9" fill="#fdfde4"/>
<rect x="1027.4" y="289.6" width="22.9" height="22.9" fill="#fcfde0"/>
<rect x="1027.4" y="267.4" width="22.9" height="22.9" fill="#fbfcde"/>
<rect x="1027.4" y="245.1" width="22.9" height="22.9" fill="#fbfcdc"/>
<rect x="1027.4" y="222.8" width="22.9" height="22.9" fill="#fbfcdc"/>
<rect x="1027.4" y="200.4" width="22.9" height="22.9" fill="#fbfcdd"/>
<rect x="1027.4" y="178.1" width="22.9" height="22.9" fill="#fcfddf"/>
<rect x="1027.4" y="155.8" width="22.9" height="22.9" fill="#fdfde3"/>
<rect x="1027.4" y="133.6" width="22.9" height="22.9" fill="#fdfde7"/>
<rect x="1027.4" y="111.2" width="22.9" height="22.9" fill="#fefeec"/>
<rect x="1027.4" y="88.9" width="22.9" height="22.9" fill="#fefef0"/>
<rect x="1027.4" y="66.7" width="22.9" height="22.9" fill="#fefef5"/>
<rect x="1027.4" y="44.3" width="22.9" height="22.9" fill="#fffff9"/>
<rect x="1027.4" y="22.0" width="22.9" height="22.9" fill="#fffffc"/>
<rect x="1027.4" y="-0.2" width="22.9" height="22.9" fill="#fffffd"/>
<rect x="1049.7" y="401.1" width="22.9" height="22.9" fill="#fefef4"/>
<rect x="1049.7" y="378.9" width="22.9" height="22.9" fill="#fefeef"/>
<rect x="1049.7" y="356.5" width="22.9" height="22.9" fill="#fdfdea"/>
<rect x="1049.7" y="334.2" width="22.9" height="22.9" fill="#fdfde5"/>
<rect x="1049.7" y="311.9" width="22.9" height="22.9" fill="#fcfddf"/>
<rect x="1049.7" y="289.6" width="22.9" height="22.9" fill="#fbfcdb"/>
<rect x="1049.7" y="267.4" width="22.9" height="22.9" fill="#f9fcd6"/>
<rect x="1049.7" y="245.1" width="22.9" height="22.9" fill="#f9fbd4"/>
<rect x="1049.7" y="222.8" width="22.9" height="22.9" fill="#f8fbd3"/>
<rect x="1049.7" y="200.4" width="22.9" height="22.9" fill="#f9fbd4"/>
<rect x="1049.7" y="178.1" width="22.9" height="22.9" fill="#fafcd8"/>
<rect x="1049.7" y="155.8" width="22.9" height="22.9" fill="#fbfcdc"/>
<rect x="1049.7" y="133.6" width="22.9" height="22.9" fill="#fcfde1"/>
<rect x="1049.7" y="111.2" width="22.9" height="22.9" fill="#fdfde6"/>
<rect x="1049.7" y="88.9" width="22.9" height="22.9" fill="#fefeec"/>
<rect x="1049.7" y="66.7" width="22.9" height="22.9" fill="#fefef1"/>
<rect x="1049.7" y="44.3" width="22.9" height="22.9" fill="#fefef6"/>
<rect x="1049.7" y="22.0" width="22.9" height="22.9" fill="#fffffb"/>
<rect x="1049.7" y="-0.2" width="22.9" height="22.9" fill="#fffffd"/>
<rect x="1072.0" y="401.1" width="22.9" height="22.9" fill="#fefef2"/>
<rect x="1072.0" y="378.9" width="22.9" height="22.9" fill="#fefeed"/>
<rect x="1072.0" y="356.5" width="22.9" height="22.9" fill="#fdfde7"/>
<rect x="1072.0" y="334.2" width="22.9" height="22.9" fill="#fcfde1"/>
<rect x="1072.0" y="311.9" width="22.9" height="22.9" fill="#fbfcdb"/>
<rect x="1072.0" y="289.6" width="22.9" height="22.9" fill="#f9fbd4"/>
<rect x="1072.0" y="267.4" width="22.9" height="22.9" fill="#f7fbcf"/>
<rect x="1072.0" y="245.1" width="22.9" height="22.9" fill="#f6fbcb"/>
<rect x="1072.0" y="222.8" width="22.9" height="22.9" fill="#f6faca"/>
<rect x="1072.0" y="200.4" width="22.9" height="22.9" fill="#f6fbcb"/>
<rect x="1072.0" y="178.1" width="22.9" height="22.9" fill="#f7fbcf"/>
<rect x="1072.0" y="155.8" width="22.9" height="22.9" fill="#f9fbd4"/>
<rect x="1072.0" y="133.6" width="22.9" height="22.9" fill="#fbfcdb"/>
<rect x="1072.0" y="111.2" width="22.9" height="22.9" fill="#fcfde1"/>
<rect x="1072.0" y="88.9" width="22.9" height="22.9" fill="#fdfde7"/>
<rect x="1072.0" y="66.7" width="22.9" height="22.9" fill="#fefeed"/>
<rect x="1072.0" y="44.3" width="22.9" height="22.9" fill="#fefef2"/>
<rect x="1072.0" y="22.0" width="22.9" height="22.9" fill="#fefef8"/>
<rect x="1072.0" y="-0.2" width="22.9" height="22.9" fill="#fffffc"/>
<rect x="1094.2" y="401.1" width="22.9" height="22.9" fill="#fefef1"/>
<rect x="1094.2" y="378.9" width="22.9" height="22.9" fill="#fefeeb"/>
<rect x="1094.2" y="356.5" width="22.9" height="22.9" fill="#fdfde4"/>
<rect x="1094.2" y="334.2" width="22.9" height="22.9" fill="#fbfcdd"/>
<rect x="1094.2" y="311.9" width="22.9" height="22.9" fill="#f9fcd5"/>
<rect x="1094.2" y="289.6" width="22.9" height="22.9" fill="#f7fbcd"/>
<rect x="1094.2" y="267.4" width="22.9" height="22.9" fill="#f5fac7"/>
<rect x="1094.2" y="245.1" width="22.9" height="22.9" fill="#f2f9c4"/>
<rect x="1094.2" y="222.8" width="22.9" height="22.9" fill="#f1f8c3"/>
<rect x="1094.2" y="200.4" width="22.9" height="22.9" fill="#f2f8c4"/>
<rect x="1094.2" y="178.1" width="22.9" height="22.9" fill="#f5fac6"/>
<rect x="1094.2" y="155.8" width="22.9" height="22.9" fill="#f6fbcc"/>
<rect x="1094.2" y="133.6" width="22.9" height="22.9" fill="#f8fbd3"/>
<rect x="1094.2" y="111.2" width="22.9" height="22.9" fill="#fbfcdb"/>
<rect x="1094.2" y="88.9" width="22.9" height="22.9" fill="#fdfde2"/>
<rect x="1094.2" y="66.7" width="22.9" height="22.9" fill="#fdfde9"/>
<rect x="1094.2" y="44.3" width="22.9" height="22.9" fill="#fefeef"/>
<rect x="1094.2" y="22.0" width="22.9" height="22.9" fill="#fefef5"/>
<rect x="1094.2" y="-0.2" width="22.9" height="22.9" fill="#fffffa"/>
<rect x="1116.5" y="401.1" width="22.9" height="22.9" fill="#fefef0"/>
<rect x="1116.5" y="378.9" width="22.9" height="22.9" fill="#fdfde9"/>
<rect x="1116.5" y="356.5" width="22.9" height="22.9" fill="#fcfde2"/>
<rect x="1116.5" y="334.2" width="22.9" height="22.9" fill="#fafcda"/>
<rect x="1116.5" y="311.9" width="22.9" height="22.9" fill="#f8fbd0"/>
<rect x="1116.5" y="289.6" width="22.9" height="22.9" fill="#f5fac8"/>
<rect x="1116.5" y="267.4" width="22.9" height="22.9" fill="#f0f8c2"/>
<rect x="1116.5" y="245.1" width="22.9" height="22.9" fill="#ebf5bf"/>
<rect x="1116.5" y="222.8" width="22.9" height="22.9" fill="#e8f4bd"/>
<rect x="1116.5" y="200.4" width="22.9" height="22.9" fill="#e9f5bd"/>
<rect x="1116.5" y="178.1" width="22.9" height="22.9" fill="#edf6c0"/>
<rect x="1116.5" y="155.8" width="22.9" height="22.9" fill="#f2f9c4"/>
<rect x="1116.5" y="133.6" width="22.9" height="22.9" fill="#f6fbcb"/>
<rect x="1116.5" y="111.2" width="22.9" height="22.9" fill="#f9fbd4"/>
<rect x="1116.5" y="88.9" width="22.9" height="22.9" fill="#fbfcdd"/>
<rect x="1116.5" y="66.7" width="22.9" height="22.9" fill="#fdfde5"/>
<rect x="1116.5" y="44.3" width="22.9" height="22.9" fill="#fefeec"/>
<rect x="1116.5" y="22.0" width="22.9" height="22.9" fill="#fefef2"/>
<rect x="1116.5" y="-0.2" width="22.9" height="22.9" fill="#fefef8"/>
<rect x="1138.9" y="401.1" width="22.9" height="22.9" fill="#fefeef"/>
<rect x="1138.9" y="378.9" width="22.9" height="22.9" fill="#fdfde8"/>
<rect x="1138.9" y="356.5" width="22.9" height="22.9" fill="#fcfde0"/>
<rect x="1138.9" y="334.2" width="22.9" height="22.9" fill="#f9fcd7"/>
<rect x="1138.9" y="311.9" width="22.9" height="22.9" fill="#f7fbcc"/>
<rect x="1138.9" y="289.6" width="22.9" height="22.9" fill="#f2f9c4"/>
<rect x="1138.9" y="267.4" width="22.9" height="22.9" fill="#eaf5be"/>
<rect x="1138.9" y="245.1" width="22.9" height="22.9" fill="#e1f1b8"/>
<rect x="1138.9" y="222.8" width="22.9" height="22.9" fill="#dcefb4"/>
<rect x="1138.9" y="200.4" width="22.9" height="22.9" fill="#ddefb5"/>
<rect x="1138.9" y="178.1" width="22.9" height="22.9" fill="#e2f2b9"/>
<rect x="1138.9" y="155.8" width="22.9" height="22.9" fill="#ebf6bf"/>
<rect x="1138.9" y="133.6" width="22.9" height="22.9" fill="#f3f9c5"/>
<rect x="1138.9" y="111.2" width="22.9" height="22.9" fill="#f7fbce"/>
<rect x="1138.9" y="88.9" width="22.9" height="22.9" fill="#fafcd8"/>
<rect x="1138.9" y="66.7" width="22.9" height="22.9" fill="#fcfde1"/>
<rect x="1138.9" y="44.3" width="22.9" height="22.9" fill="#fdfde9"/>
<rect x="1138.9" y="22.0" width="22.9" height="22.9" fill="#fefef0"/>
<rect x="1138.9" y="-0.2" width="22.9" height="22.9" fill="#fefef6"/>
<rect x="1161.2" y="401.1" width="22.9" height="22.9" fill="#fefeee"/>
<rect x="1161.2" y="378.9" width="22.9" height="22.9" fill="#fdfde7"/>
<rect x="1161.2" y="356.5" width="22.9" height="22.9" fill="#fcfcdf"/>
<rect x="1161.2" y="334.2" width="22.9" height="22.9" fill="#f9fbd4"/>
<rect x="1161.2" y="311.9" width="22.9" height="22.9" fill="#f6fac9"/>
<rect x="1161.2" y="289.6" width="22.9" height="22.9" fill="#eef7c1"/>
<rect x="1161.2" y="267.4" width="22.9" height="22.9" fill="#e3f2b9"/>
<rect x="1161.2" y="245.1" width="22.9" height="22.9" fill="#cce8b5"/>
<rect x="1161.2" y="222.8" width="22.9" height="22.9" fill="#b0ddb6"/>
<rect x="1161.2" y="200.4" width="22.9" height="22.9" fill="#aedcb6"/>
<rect x="1161.2" y="178.1" width="22.9" height="22.9" fill="#c8e6b5"/>
<rect x="1161.2" y="155.8" width="22.9" height="22.9" fill="#e2f1b8"/>
<rect x="1161.2" y="133.6" width="22.9" height="22.9" fill="#edf6c0"/>
<rect x="1161.2" y="111.2" width="22.9" height="22.9" fill="#f6fac8"/>
<rect x="1161.2" y="88.9" width="22.9" height="22.9" fill="#f8fbd3"/>
<rect x="1161.2" y="66.7" width="22.9" height="22.9" fill="#fbfcdd"/>
<rect x="1161.2" y="44.3" width="22.9" height="22.9" fill="#fdfde6"/>
<rect x="1161.2" y="22.0" width="22.9" height="22.9" fill="#fefeee"/>
<rect x="1161.2" y="-0.2" width="22.9" height="22.9" fill="#fefef4"/>
<rect x="1183.5" y="401.1" width="22.9" height="22.9" fill="#fefeee"/>
<rect x="1183.5" y="378.9" width="22.9" height="22.9" fill="#fdfde7"/>
<rect x="1183.5" y="356.5" width="22.9" height="22.9" fill="#fbfcde"/>
<rect x="1183.5" y="334.2" width="22.9" height="22.9" fill="#f9fbd3"/>
<rect x="1183.5" y="311.9" width="22.9" height="22.9" fill="#f5fac8"/>
<rect x="1183.5" y="289.6" width="22.9" height="22.9" fill="#ecf6bf"/>
<rect x="1183.5" y="267.4" width="22.9" height="22.9" fill="#def0b6"/>
<rect x="1183.5" y="245.1" width="22.9" height="22.9" fill="#afdcb6"/>
<rect x="1183.5" y="222.8" width="22.9" height="22.9" fill="#7bc7bc"/>
<rect x="1183.5" y="200.4" width="22.9" height="22.9" fill="#6bc1be"/>
<rect x="1183.5" y="178.1" width="22.9" height="22.9" fill="#99d3b8"/>
<rect x="1183.5" y="155.8" width="22.9" height="22.9" fill="#cee9b5"/>
<rect x="1183.5" y="133.6" width="22.9" height="22.9" fill="#e7f4bc"/>
<rect x="1183.5" y="111.2" width="22.9" height="22.9" fill="#f2f9c4"/>
<rect x="1183.5" y="88.9" width="22.9" height="22.9" fill="#f7fbce"/>
<rect x="1183.5" y="66.7" width="22.9" height="22.9" fill="#fafcda"/>
<rect x="1183.5" y="44.3" width="22.9" height="22.9" fill="#fdfde3"/>
<rect x="1183.5" y="22.0" width="22.9" height="22.9" fill="#fefeeb"/>
<rect x="1183.5" y="-0.2" width="22.9" height="22.9" fill="#fefef2"/>
<rect x="1205.8" y="401.1" width="22.9" height="22.9" fill="#fefeef"/>
<rect x="1205.8" y="378.9" width="22.9" height="22.9" fill="#fdfde7"/>
<rect x="1205.8" y="356.5" width="22.9" height="22.9" fill="#fbfcde"/>
<rect x="1205.8" y="334.2" width="22.9" height="22.9" fill="#f9fbd3"/>
<rect x="1205.8" y="311.9" width="22.9" height="22.9" fill="#f5fac8"/>
<rect x="1205.8" y="289.6" width="22.9" height="22.9" fill="#ebf6bf"/>
<rect x="1205.8" y="267.4" width="22.9" height="22.9" fill="#dcefb4"/>
<rect x="1205.8" y="245.1" width="22.9" height="22.9" fill="#9cd5b8"/>
<rect x="1205.8" y="222.8" width="22.9" height="22.9" fill="#4cb5c3"/>
<rect x="1205.8" y="200.4" width="22.9" height="22.9" fill="#49b3c3"/>
<rect x="1205.8" y="178.1" width="22.9" height="22.9" fill="#5dbcc0"/>
<rect x="1205.8" y="155.8" width="22.9" height="22.9" fill="#b0ddb6"/>
<rect x="1205.8" y="133.6" width="22.9" height="22.9" fill="#e1f1b7"/>
<rect x="1205.8" y="111.2" width="22.9" height="22.9" fill="#eef7c1"/>
<rect x="1205.8" y="88.9" width="22.9" height="22.9" fill="#f6facb"/>
<rect x="1205.8" y="66.7" width="22.9" height="22.9" fill="#fafcd7"/>
<rect x="1205.8" y="44.3" width="22.9" height="22.9" fill="#fcfde1"/>
<rect x="1205.8" y="22.0" width="22.9" height="22.9" fill="#fdfde9"/>
<rect x="1205.8" y="-0.2" width="22.9" height="22.9" fill="#fefef0"/>
<rect x="1228.0" y="401.1" width="22.9" height="22.9" fill="#fefeef"/>
<rect x="1228.0" y="378.9" width="22.9" height="22.9" fill="#fdfde8"/>
<rect x="1228.0" y="356.5" width="22.9" height="22.9" fill="#fcfddf"/>
<rect x="1228.0" y="334.2" width="22.9" height="22.9" fill="#f9fbd5"/>
<rect x="1228.0" y="311.9" width="22.9" height="22.9" fill="#f6fac9"/>
<rect x="1228.0" y="289.6" width="22.9" height="22.9" fill="#ecf6bf"/>
<rect x="1228.0" y="267.4" width="22.9" height="22.9" fill="#ddefb5"/>
<rect x="1228.0" y="245.1" width="22.9" height="22.9" fill="#9cd5b8"/>
<rect x="1228.0" y="222.8" width="22.9" height="22.9" fill="#4bb4c3"/>
<rect x="1228.0" y="200.4" width="22.9" height="22.9" fill="#43b1c4"/>
<rect x="1228.0" y="178.1" width="22.9" height="22.9" fill="#4bb4c3"/>
<rect x="1228.0" y="155.8" width="22.9" height="22.9" fill="#9cd5b8"/>
<rect x="1228.0" y="133.6" width="22.9" height="22.9" fill="#ddefb5"/>
<rect x="1228.0" y="111.2" width="22.9" height="22.9" fill="#ecf6bf"/>
<rect x="1228.0" y="88.9" width="22.9" height="22.9" fill="#f6fac9"/>
<rect x="1228.0" y="66.7" width="22.9" height="22.9" fill="#f9fbd5"/>
<rect x="1228.0" y="44.3" width="22.9" height="22.9" fill="#fcfddf"/>
<rect x="1228.0" y="22.0" width="22.9" height="22.9" fill="#fdfde8"/>
<rect x="1228.0" y="-0.2" width="22.9" height="22.9" fill="#fefeef"/>
<rect x="1250.4" y="401.1" width="22.9" height="22.9" fill="#fefef0"/>
<rect x="1250.4" y="378.9" width="22.9" height="22.9" fill="#fdfde9"/>
<rect x="1250.4" y="356.5" width="22.9" height="22.9" fill="#fcfde1"/>
<rect x="1250.4" y="334.2" width="22.9" height="22.9" fill="#fafcd7"/>
<rect x="1250.4" y="311.9" width="22.9" height="22.9" fill="#f6facb"/>
<rect x="1250.4" y="289.6" width="22.9" height="22.9" fill="#eef7c1"/>
<rect x="1250.4" y="267.4" width="22.9" height="22.9" fill="#e1f1b7"/>
<rect x="1250.4" y="245.1" width="22.9" height="22.9" fill="#b0ddb6"/>
<rect x="1250.4" y="222.8" width="22.9" height="22.9" fill="#5dbcc0"/>
<rect x="1250.4" y="200.4" width="22.9" height="22.9" fill="#49b3c3"/>
<rect x="1250.4" y="178.1" width="22.9" height="22.9" fill="#4cb5c3"/>
<rect x="1250.4" y="155.8" width="22.9" height="22.9" fill="#9cd5b8"/>
<rect x="1250.4" y="133.6" width="22.9" height="22.9" fill="#dcefb4"/>
<rect x="1250.4" y="111.2" width="22.9" height="22.9" fill="#ebf6bf"/>
<rect x="1250.4" y="88.9" width="22.9" height="22.9" fill="#f5fac8"/>
<rect x="1250.4" y="66.7" width="22.9" height="22.9" fill="#f9fbd3"/>
<rect x="1250.4" y="44.3" width="22.9" height="22.9" fill="#fbfcde"/>
<rect x="1250.4" y="22.0" width="22.9" height="22.9" fill="#fdfde7"/>
<rect x="1250.4" y="-0.2" width="22.9" height="22.9" fill="#fefeef"/>
<rect x="1272.7" y="401.1" width="22.9" height="22.9" fill="#fefef2"/>
<rect x="1272.7" y="378.9" width="22.9" height="22.9" fill="#fefeeb"/>
<rect x="1272.7" y="356.5" width="22.9" height="22.9" fill="#fdfde3"/>
<rect x="1272.7" y="334.2" width="22.9" height="22.9" fill="#fafcda"/>
<rect x="1272.7" y="311.9" width="22.9" height="22.9" fill="#f7fbce"/>
<rect x="1272.7" y="289.6" width="22.9" height="22.9" fill="#f2f9c4"/>
<rect x="1272.7" y="267.4" width="22.9" height="22.9" fill="#e7f4bc"/>
<rect x="1272.7" y="245.1" width="22.9" height="22.9" fill="#cee9b5"/>
<rect x="1272.7" y="222.8" width="22.9" height="22.9" fill="#99d3b8"/>
<rect x="1272.7" y="200.4" width="22.9" height="22.9" fill="#6bc1be"/>
<rect x="1272.7" y="178.1" width="22.9" height="22.9" fill="#7bc7bc"/>
<rect x="1272.7" y="155.8" width="22.9" height="22.9" fill="#afdcb6"/>
<rect x="1272.7" y="133.6" width="22.9" height="22.9" fill="#def0b6"/>
<rect x="1272.7" y="111.2" width="22.9" height="22.9" fill="#ecf6bf"/>
<rect x="1272.7" y="88.9" width="22.9" height="22.9" fill="#f5fac8"/>
<rect x="1272.7" y="66.7" width="22.9" height="22.9" fill="#f9fbd3"/>
<rect x="1272.7" y="44.3" width="22.9" height="22.9" fill="#fbfcde"/>
<rect x="1272.7" y="22.0" width="22.9" height="22.9" fill="#fdfde7"/>
<rect x="1272.7" y="-0.2" width="22.9" height="22.9" fill="#fefeee"/>
<rect x="1295.0" y="401.1" width="22.9" height="22.9" fill="#fefef4"/>
<rect x="1295.0" y="378.9" width="22.9" height="22.9" fill="#fefeee"/>
<rect x="1295.0" y="356.5" width="22.9" height="22.9" fill="#fdfde6"/>
<rect x="1295.0" y="334.2" width="22.9" height="22.9" fill="#fbfcdd"/>
<rect x="1295.0" y="311.9" width="22.9" height="22.9" fill="#f8fbd3"/>
<rect x="1295.0" y="289.6" width="22.9" height="22.9" fill="#f6fac8"/>
<rect x="1295.0" y="267.4" width="22.9" height="22.9" fill="#edf6c0"/>
<rect x="1295.0" y="245.1" width="22.9" height="22.9" fill="#e2f1b8"/>
<rect x="1295.0" y="222.8" width="22.9" height="22.9" fill="#c8e6b5"/>
<rect x="1295.0" y="200.4" width="22.9" height="22.9" fill="#aedcb6"/>
<rect x="1295.0" y="178.1" width="22.9" height="22.9" fill="#b0ddb6"/>
<rect x="1295.0" y="155.8" width="22.9" height="22.9" fill="#cce8b5"/>
<rect x="1295.0" y="133.6" width="22.9" height="22.9" fill="#e3f2b9"/>
<rect x="1295.0" y="111.2" width="22.9" height="22.9" fill="#eef7c1"/>
<rect x="1295.0" y="88.9" width="22.9" height="22.9" fill="#f6fac9"/>
<rect x="1295.0" y="66.7" width="22.9" height="22.9" fill="#f9fbd4"/>
<rect x="1295.0" y="44.3" width="22.9" height="22.9" fill="#fcfcdf"/>
<rect x="1295.0" y="22.0" width="22.9" height="22.9" fill="#fdfde7"/>
<rect x="1295.0" y="-0.2" width="22.9" height="22.9" fill="#fefeee"/>
<rect x="1317.2" y="401.1" width="22.9" height="22.9" fill="#fefef6"/>
<rect x="1317.2" y="378.9" width="22.9" height="22.9" fill="#fefef0"/>
<rect x="1317.2" y="356.5" width="22.9" height="22.9" fill="#fdfde9"/>
<rect x="1317.2" y="334.2" width="22.9" height="22.9" fill="#fcfde1"/>
<rect x="1317.2" y="311.9" width="22.9" height="22.9" fill="#fafcd8"/>
<rect x="1317.2" y="289.6" width="22.9" height="22.9" fill="#f7fbce"/>
<rect x="1317.2" y="267.4" width="22.9" height="22.9" fill="#f3f9c5"/>
<rect x="1317.2" y="245.1" width="22.9" height="22.9" fill="#ebf6bf"/>
<rect x="1317.2" y="222.8" width="22.9" height="22.9" fill="#e2f2b9"/>
<rect x="1317.2" y="200.4" width="22.9" height="22.9" fill="#ddefb5"/>
<rect x="1317.2" y="178.1" width="22.9" height="22.9" fill="#dcefb4"/>
<rect x="1317.2" y="155.8" width="22.9" height="22.9" fill="#e1f1b8"/>
<rect x="1317.2" y="133.6" width="22.9" height="22.9" fill="#eaf5be"/>
<rect x="1317.2" y="111.2" width="22.9" height="22.9" fill="#f2f9c4"/>
<rect x="1317.2" y="88.9" width="22.9" height="22.9" fill="#f7fbcc"/>
<rect x="1317.2" y="66.7" width="22.9" height="22.9" fill="#f9fcd7"/>
<rect x="1317.2" y="44.3" width="22.9" height="22.9" fill="#fcfde0"/>
<rect x="1317.2" y="22.0" width="22.9" height="22.9" fill="#fdfde8"/>
<rect x="1317.2" y="-0.2" width="22.9" height="22.9" fill="#fefeef"/>
<rect x="1339.5" y="401.1" width="22.9" height="22.9" fill="#fefef8"/>
<rect x="1339.5" y="378.9" width="22.9" height="22.9" fill="#fefef2"/>
<rect x="1339.5" y="356.5" width="22.9" height="22.9" fill="#fefeec"/>
<rect x="1339.5" y="334.2" width="22.9" height="22.9" fill="#fdfde5"/>
<rect x="1339.5" y="311.9" width="22.9" height="22.9" fill="#fbfcdd"/>
<rect x="1339.5" y="289.6" width="22.9" height="22.9" fill="#f9fbd4"/>
<rect x="1339.5" y="267.4" width="22.9" height="22.9" fill="#f6fbcb"/>
<rect x="1339.5" y="245.1" width="22.9" height="22.9" fill="#f2f9c4"/>
<rect x="1339.5" y="222.8" width="22.9" height="22.9" fill="#edf6c0"/>
<rect x="1339.5" y="200.4" width="22.9" height="22.9" fill="#e9f5bd"/>
<rect x="1339.5" y="178.1" width="22.9" height="22.9" fill="#e8f4bd"/>
<rect x="1339.5" y="155.8" width="22.9" height="22.9" fill="#ebf5bf"/>
<rect x="1339.5" y="133.6" width="22.9" height="22.9" fill="#f0f8c2"/>
<rect x="1339.5" y="111.2" width="22.9" height="22.9" fill="#f5fac8"/>
<rect x="1339.5" y="88.9" width="22.9" height="22.9" fill="#f8fbd0"/>
<rect x="1339.5" y="66.7" width="22.9" height="22.9" fill="#fafcda"/>
<rect x="1339.5" y="44.3" width="22.9" height="22.9" fill="#fcfde2"/>
<rect x="1339.5" y="22.0" width="22.9" height="22.9" fill="#fdfde9"/>
<rect x="1339.5" y="-0.2" width="22.9" height="22.9" fill="#fefef0"/>
<rect x="1361.9" y="401.1" width="22.9" height="22.9" fill="#fffffa"/>
<rect x="1361.9" y="378.9" width="22.9" height="22.9" fill="#fefef5"/>
<rect x="1361.9" y="356.5" width="22.9" height="22.9" fill="#fefeef"/>
<rect x="1361.9" y="334.2" width="22.9" height="22.9" fill="#fdfde9"/>
<rect x="1361.9" y="311.9" width="22.9" height="22.9" fill="#fdfde2"/>
<rect x="1361.9" y="289.6" width="22.9" height="22.9" fill="#fbfcdb"/>
<rect x="1361.9" y="267.4" width="22.9" height="22.9" fill="#f8fbd3"/>
<rect x="1361.9" y="245.1" width="22.9" height="22.9" fill="#f6fbcc"/>
<rect x="1361.9" y="222.8" width="22.9" height="22.9" fill="#f5fac6"/>
<rect x="1361.9" y="200.4" width="22.9" height="22.9" fill="#f2f8c4"/>
<rect x="1361.9" y="178.1" width="22.9" height="22.9" fill="#f1f8c3"/>
<rect x="1361.9" y="155.8" width="22.9" height="22.9" fill="#f2f9c4"/>
<rect x="1361.9" y="133.6" width="22.9" height="22.9" fill="#f5fac7"/>
<rect x="1361.9" y="111.2" width="22.9" height="22.9" fill="#f7fbcd"/>
<rect x="1361.9" y="88.9" width="22.9" height="22.9" fill="#f9fcd5"/>
<rect x="1361.9" y="66.7" width="22.9" height="22.9" fill="#fbfcdd"/>
<rect x="1361.9" y="44.3" width="22.9" height="22.9" fill="#fdfde4"/>
<rect x="1361.9" y="22.0" width="22.9" height="22.9" fill="#fefeeb"/>
<rect x="1361.9" y="-0.2" width="22.9" height="22.9" fill="#fefef1"/>
<rect x="1384.2" y="401.1" width="22.9" height="22.9" fill="#fffffc"/>
<rect x="1384.2" y="378.9" width="22.9" height="22.9" fill="#fefef8"/>
<rect x="1384.2" y="356.5" width="22.9" height="22.9" fill="#fefef2"/>
<rect x="1384.2" y="334.2" width="22.9" height="22.9" fill="#fefeed"/>
<rect x="1384.2" y="311.9" width="22.9" height="22.9" fill="#fdfde7"/>
<rect x="1384.2" y="289.6" width="22.9" height="22.9" fill="#fcfde1"/>
<rect x="1384.2" y="267.4" width="22.9" height="22.9" fill="#fbfcdb"/>
<rect x="1384.2" y="245.1" width="22.9" height="22.9" fill="#f9fbd4"/>
<rect x="1384.2" y="222.8" width="22.9" height="22.9" fill="#f7fbcf"/>
<rect x="1384.2" y="200.4" width="22.9" height="22.9" fill="#f6fbcb"/>
<rect x="1384.2" y="178.1" width="22.9" height="22.9" fill="#f6faca"/>
<rect x="1384.2" y="155.8" width="22.9" height="22.9" fill="#f6fbcb"/>
<rect x="1384.2" y="133.6" width="22.9" height="22.9" fill="#f7fbcf"/>
<rect x="1384.2" y="111.2" width="22.9" height="22.9" fill="#f9fbd4"/>
<rect x="1384.2" y="88.9" width="22.9" height="22.9" fill="#fbfcdb"/>
<rect x="1384.2" y="66.7" width="22.9" height="22.9" fill="#fcfde1"/>
<rect x="1384.2" y="44.3" width="22.9" height="22.9" fill="#fdfde7"/>
<rect x="1384.2" y="22.0" width="22.9" height="22.9" fill="#fefeed"/>
<rect x="1384.2" y="-0.2" width="22.9" height="22.9" fill="#fefef2"/>
<rect x="1406.5" y="401.1" width="22.9" height="22.9" fill="#fffffd"/>
<rect x="1406.5" y="378.9" width="22.9" height="22.9" fill="#fffffb"/>
<rect x="1406.5" y="356.5" width="22.9" height="22.9" fill="#fefef6"/>
<rect x="1406.5" y="334.2" width="22.9" height="22.9" fill="#fefef1"/>
<rect x="1406.5" y="311.9" width="22.9" height="22.9" fill="#fefeec"/>
<rect x="1406.5" y="289.6" width="22.9" height="22.9" fill="#fdfde6"/>
<rect x="1406.5" y="267.4" width="22.9" height="22.9" fill="#fcfde1"/>
<rect x="1406.5" y="245.1" width="22.9" height="22.9" fill="#fbfcdc"/>
<rect x="1406.5" y="222.8" width="22.9" height="22.9" fill="#fafcd8"/>
<rect x="1406.5" y="200.4" width="22.9" height="22.9" fill="#f9fbd4"/>
<rect x="1406.5" y="178.1" width="22.9" height="22.9" fill="#f8fbd3"/>
<rect x="1406.5" y="155.8" width="22.9" height="22.9" fill="#f9fbd4"/>
<rect x="1406.5" y="133.6" width="22.9" height="22.9" fill="#f9fcd6"/>
<rect x="1406.5" y="111.2" width="22.9" height="22.9" fill="#fbfcdb"/>
<rect x="1406.5" y="88.9" width="22.9" height="22.9" fill="#fcfddf"/>
<rect x="1406.5" y="66.7" width="22.9" height="22.9" fill="#fdfde5"/>
<rect x="1406.5" y="44.3" width="22.9" height="22.9" fill="#fdfdea"/>
<rect x="1406.5" y="22.0" width="22.9" height="22.9" fill="#fefeef"/>
<rect x="1406.5" y="-0.2" width="22.9" height="22.9" fill="#fefef4"/>
<rect x="1428.8" y="401.1" width="22.9" height="22.9" fill="#fffffd"/>
<rect x="1428.8" y="378.9" width="22.9" height="22.9" fill="#fffffc"/>
<rect x="1428.8" y="356.5" width="22.9" height="22.9" fill="#fffff9"/>
<rect x="1428.8" y="334.2" width="22.9" height="22.9" fill="#fefef5"/>
<rect x="1428.8" y="311.9" width="22.9" height="22.9" fill="#fefef0"/>
<rect x="1428.8" y="289.6" width="22.9" height="22.9" fill="#fefeec"/>
<rect x="1428.8" y="267.4" width="22.9" height="22.9" fill="#fdfde7"/>
<rect x="1428.8" y="245.1" width="22.9" height="22.9" fill="#fdfde3"/>
<rect x="1428.8" y="222.8" width="22.9" height="22.9" fill="#fcfddf"/>
<rect x="1428.8" y="200.4" width="22.9" height="22.9" fill="#fbfcdd"/>
<rect x="1428.8" y="178.1" width="22.9" height="22.9" fill="#fbfcdc"/>
<rect x="1428.8" y="155.8" width="22.9" height="22.9" fill="#fbfcdc"/>
<rect x="1428.8" y="133.6" width="22.9" height="22.9" fill="#fbfcde"/>
<rect x="1428.8" y="111.2" width="22.9" height="22.9" fill="#fcfde0"/>
<rect x="1428.8" y="88.9" width="22.9" height="22.9" fill="#fdfde4"/>
<rect x="1428.8" y="66.7" width="22.9" height="22.9" fill="#fdfde9"/>
<rect x="1428.8" y="44.3" width="22.9" height="22.9" fill="#fefeee"/>
<rect x="1428.8" y="22.0" width="22.9" height="22.9" fill="#fefef2"/>
<rect x="1428.8" y="-0.2" width="22.9" height="22.9" fill="#fefef6"/>
</g>
<defs><mask id="gapm" maskUnits="userSpaceOnUse" x="1030" y="0" width="420" height="420"><rect x="1030" y="0" width="420" height="420" fill="#fff"/>
<rect x="1330.4" y="69.4" width="40" height="16" fill="#000" transform="rotate(21 1350.4 77.4)"/>
<rect x="1304.8" y="106.8" width="42" height="16" fill="#000" transform="rotate(22.2 1325.8 114.8)"/>
<rect x="1283.0" y="132" width="40" height="16" fill="#000" transform="rotate(19.4 1303 140)"/>
</mask></defs>
<g clip-path="url(#cc)" fill="none"><g mask="url(#gapm)">
<ellipse cx="1239.2" cy="211.6" rx="201.5" ry="139.0" transform="rotate(-17.7 1239.2 211.6)" stroke="#f5a30f" stroke-width="4.5"/>
<ellipse cx="1239.2" cy="211.6" rx="149.9" ry="103.4" transform="rotate(-17.1 1239.2 211.6)" stroke="#e8501e" stroke-width="1.5"/>
<ellipse cx="1239.2" cy="211.6" rx="113.1" ry="78.0" transform="rotate(-17.2 1239.2 211.6)" stroke="#00e5f5" stroke-width="3.5"/>
<ellipse cx="1239.2" cy="211.6" rx="114.1" ry="78.7" transform="rotate(-17.1 1239.2 211.6)" stroke="#2a73b6" stroke-width="1.2"/>
</g>
<path d="M1279.4,168.6 L1290.9,174.2 L1302.4,189.0 L1305.7,205.4 L1304.1,225.1 L1294.2,238.2 L1281.1,248.1 L1261.4,256.3 L1241.7,261.2 L1218.7,261.2 L1195.7,253.0 L1182.5,243.2 L1174.3,231.7 L1173.3,212.0 L1176.0,203.7 L1185.8,190.6 L1200.6,179.1 L1218.7,168.6 L1243.3,162.0" stroke="#800080" stroke-width="4.5" stroke-linejoin="round"/>
</g>
<text x="1350" y="77.3" font-size="22" text-anchor="middle" fill="#f0a020" transform="rotate(-20 1350 77.3)" dominant-baseline="central" font-family="Liberation Sans, sans-serif">0.6</text>
<text x="1327.5" y="111.7" font-size="22" text-anchor="middle" fill="#e0501e" transform="rotate(-25 1327.5 111.7)" dominant-baseline="central" font-family="Liberation Sans, sans-serif">0.6</text>
<text x="1305.3" y="137.8" font-size="22" text-anchor="middle" fill="#2a73b6" transform="rotate(-28 1305.3 137.8)" dominant-baseline="central" font-family="Liberation Sans, sans-serif">0.6</text>
<text x="1260.9" y="159.8" font-size="22" text-anchor="middle" fill="#800080" transform="rotate(-8 1260.9 159.8)" dominant-baseline="central" font-family="Liberation Sans, sans-serif">0.6</text>
<rect x="1038.5" y="10.6" width="402.0" height="402.6" fill="none" stroke="#333" stroke-width="1.3"/>
<line x1="1034.2" y1="345.4" x2="1038.5" y2="345.4" stroke="#333" stroke-width="1.2"/>
<text x="1029" y="353.3" font-size="22" text-anchor="end" font-family="Liberation Sans, sans-serif">-60</text>
<line x1="1105.4" y1="413.2" x2="1105.4" y2="417.7" stroke="#333" stroke-width="1.2"/>
<text x="1105.4" y="437.8" font-size="22" text-anchor="middle" font-family="Liberation Sans, sans-serif">-60</text>
<line x1="1034.2" y1="256.2" x2="1038.5" y2="256.2" stroke="#333" stroke-width="1.2"/>
<text x="1029" y="264.1" font-size="22" text-anchor="end" font-family="Liberation Sans, sans-serif">-20</text>
<line x1="1194.6" y1="413.2" x2="1194.6" y2="417.7" stroke="#333" stroke-width="1.2"/>
<text x="1194.6" y="437.8" font-size="22" text-anchor="middle" font-family="Liberation Sans, sans-serif">-20</text>
<line x1="1034.2" y1="167.0" x2="1038.5" y2="167.0" stroke="#333" stroke-width="1.2"/>
<text x="1029" y="174.9" font-size="22" text-anchor="end" font-family="Liberation Sans, sans-serif">20</text>
<line x1="1283.8" y1="413.2" x2="1283.8" y2="417.7" stroke="#333" stroke-width="1.2"/>
<text x="1283.8" y="437.8" font-size="22" text-anchor="middle" font-family="Liberation Sans, sans-serif">20</text>
<line x1="1034.2" y1="77.8" x2="1038.5" y2="77.8" stroke="#333" stroke-width="1.2"/>
<text x="1029" y="85.7" font-size="22" text-anchor="end" font-family="Liberation Sans, sans-serif">60</text>
<line x1="1373.0" y1="413.2" x2="1373.0" y2="417.7" stroke="#333" stroke-width="1.2"/>
<text x="1373.0" y="437.8" font-size="22" text-anchor="middle" font-family="Liberation Sans, sans-serif">60</text>
<text x="1258" y="464.7" font-size="27" text-anchor="middle" font-family="Liberation Sans, sans-serif">spatial lag (km)</text>
<g transform="translate(990.4,201.5) rotate(-90)"><text x="0" y="0" font-size="27" text-anchor="middle" font-family="Liberation Sans, sans-serif">spatial lag (km)</text></g>
<text x="1048" y="41.6" font-size="34" font-weight="bold" font-family="Liberation Sans, sans-serif">c</text>
<defs><linearGradient id="cbg" x1="0" y1="1" x2="0" y2="0">
<stop offset="0.000" stop-color="#ffffff"/>
<stop offset="0.167" stop-color="#fdfde4"/>
<stop offset="0.333" stop-color="#f5fac6"/>
<stop offset="0.500" stop-color="#dcefb4"/>
<stop offset="0.667" stop-color="#aadab6"/>
<stop offset="0.833" stop-color="#72c4bd"/>
<stop offset="1.000" stop-color="#43b1c4"/>
</linearGradient></defs>
<rect x="1451.4" y="53" width="12.8" height="305.1" fill="url(#cbg)"/>
<polygon points="1451.4,53 1457.8,37 1464.2,53" fill="#43b1c4"/>
<polygon points="1451.4,358.1 1457.8,373.2 1464.2,358.1" fill="#fff"/>
<path d="M1451.4,53 L1457.8,37 L1464.2,53 L1464.2,358.1 L1457.8,373.2 L1451.4,358.1 Z" fill="none" stroke="#444" stroke-width="0.9"/>
<line x1="1464.2" y1="358.1" x2="1467.7" y2="358.1" stroke="#333" stroke-width="1"/>
<text x="1471" y="364.3" font-size="17" font-family="Liberation Sans, sans-serif">0.2</text>
<line x1="1464.2" y1="307.2" x2="1467.7" y2="307.2" stroke="#333" stroke-width="1"/>
<text x="1471" y="313.4" font-size="17" font-family="Liberation Sans, sans-serif">0.3</text>
<line x1="1464.2" y1="256.4" x2="1467.7" y2="256.4" stroke="#333" stroke-width="1"/>
<text x="1471" y="262.6" font-size="17" font-family="Liberation Sans, sans-serif">0.4</text>
<line x1="1464.2" y1="205.6" x2="1467.7" y2="205.6" stroke="#333" stroke-width="1"/>
<text x="1471" y="211.8" font-size="17" font-family="Liberation Sans, sans-serif">0.5</text>
<line x1="1464.2" y1="154.7" x2="1467.7" y2="154.7" stroke="#333" stroke-width="1"/>
<text x="1471" y="160.9" font-size="17" font-family="Liberation Sans, sans-serif">0.6</text>
<line x1="1464.2" y1="103.9" x2="1467.7" y2="103.9" stroke="#333" stroke-width="1"/>
<text x="1471" y="110.1" font-size="17" font-family="Liberation Sans, sans-serif">0.7</text>
<line x1="1464.2" y1="53.0" x2="1467.7" y2="53.0" stroke="#333" stroke-width="1"/>
<text x="1471" y="59.2" font-size="17" font-family="Liberation Sans, sans-serif">0.8</text>
<g transform="translate(1453,382.5) rotate(90)"><text x="-1" y="0" font-size="16.5" font-family="Liberation Sans, sans-serif">PCC</text></g>
<text x="1042.5" y="508.7" font-size="27.5" font-family="Liberation Sans, sans-serif">F(km)</text>
<text x="1054.3" y="541" font-size="27" font-family="Liberation Sans, sans-serif">O(°)</text>
<text x="1119" y="508.5" font-size="27" fill="#7030a0" font-family="Liberation Sans, sans-serif">43.3</text>
<text x="1180.7" y="508.5" font-size="27" fill="#ffb900" font-family="Liberation Sans, sans-serif">130.0</text>
<text x="1255.4" y="508.5" font-size="27" fill="#ff7256" font-family="Liberation Sans, sans-serif">96.7</text>
<text x="1318" y="508.5" font-size="27" fill="#00ffff" font-family="Liberation Sans, sans-serif">75.4</text>
<text x="1377.3" y="508.5" font-size="27" fill="#2e75b6" font-family="Liberation Sans, sans-serif">76.7</text>
<text x="1121" y="541.3" font-size="27" fill="#7030a0" font-family="Liberation Sans, sans-serif">16.6</text>
<text x="1188" y="541.3" font-size="27" fill="#ffb900" font-family="Liberation Sans, sans-serif">17.7</text>
<text x="1256.5" y="541.3" font-size="27" fill="#ff7256" font-family="Liberation Sans, sans-serif">17.1</text>
<text x="1318.5" y="541.3" font-size="27" fill="#00ffff" font-family="Liberation Sans, sans-serif">17.2</text>
<text x="1377.5" y="541.3" font-size="27" fill="#2e75b6" font-family="Liberation Sans, sans-serif">17.1</text>
<rect x="40.5" y="481.5" width="918.5" height="64.5" rx="11" ry="11" fill="#fff" stroke="#000" stroke-width="2.4"/>
<line x1="64.2" y1="497" x2="105.4" y2="497" stroke="#800080" stroke-width="5.7"/>
<text x="115.1" y="503.4" font-size="17.4" font-family="Liberation Sans, sans-serif">gauge</text>
<line x1="195.1" y1="497" x2="235.8" y2="497" stroke="#ffa500" stroke-width="5.7"/>
<text x="246.2" y="503.2" font-size="17.4" font-family="Liberation Sans, sans-serif">ERA5</text>
<line x1="322.3" y1="497" x2="363.4" y2="497" stroke="#00ffff" stroke-width="5.7"/>
<text x="373.6" y="503.2" font-size="17.4" font-family="Liberation Sans, sans-serif">IMERG</text>
<line x1="462.4" y1="497" x2="500.1" y2="497" stroke="#f04a14" stroke-width="2.5"/>
<line x1="716" y1="497" x2="753" y2="497" stroke="#2a73b6" stroke-width="2.5"/>
<line x1="259" y1="527.4" x2="295.1" y2="527.4" stroke="#f04a14" stroke-width="2.5"/>
<polygon points="277.1,520.9 279.4,524.2 283.3,525.4 280.8,528.6 280.9,532.7 277.1,531.3 273.3,532.7 273.4,528.6 270.9,525.4 274.8,524.2" fill="#f04a14" stroke="#f04a14" stroke-width="1"/>
<line x1="518" y1="527.4" x2="554.5" y2="527.4" stroke="#3080c4" stroke-width="2.5"/>
<polygon points="536.5,520.9 538.8,524.2 542.7,525.4 540.2,528.6 540.3,532.7 536.5,531.3 532.7,532.7 532.8,528.6 530.3,525.4 534.2,524.2" fill="#3080c4" stroke="#3080c4" stroke-width="1"/>
<text y="503.2" font-size="17.3" font-family="Liberation Sans, sans-serif"><tspan x="513.1" font-style="italic">P</tspan><tspan x="522.6" font-weight="bold" font-size="18">.</tspan><tspan x="530.2">(</tspan><tspan x="537.9" font-style="italic" font-size="18">x</tspan><tspan x="553.2">|</tspan><tspan x="561.7" font-style="italic" font-size="19" font-family="Liberation Serif, serif">O</tspan><tspan x="575.7" dy="2.5" font-size="13" textLength="29.6" lengthAdjust="spacingAndGlyphs">ERA5</tspan><tspan x="607.9" dy="-2.5">)</tspan><tspan x="617.9">member</tspan></text>
<text y="503.2" font-size="17.3" font-family="Liberation Sans, sans-serif"><tspan x="766.0" font-style="italic">P</tspan><tspan x="775.5" font-weight="bold" font-size="18">.</tspan><tspan x="783.1">(</tspan><tspan x="790.8" font-style="italic" font-size="18">x</tspan><tspan x="806.1">|</tspan><tspan x="814.6" font-style="italic" font-size="19" font-family="Liberation Serif, serif">O</tspan><tspan x="828.6" dy="2.5" font-size="13" textLength="37.6" lengthAdjust="spacingAndGlyphs">IMERG</tspan><tspan x="868.8" dy="-2.5">)</tspan><tspan x="878.8">member</tspan></text>
<text y="533.6" font-size="17.3" font-family="Liberation Sans, sans-serif"><tspan x="309.1" font-style="italic">P</tspan><tspan x="318.6" font-weight="bold" font-size="18">.</tspan><tspan x="326.2">(</tspan><tspan x="333.9" font-style="italic" font-size="18">x</tspan><tspan x="349.2">|</tspan><tspan x="357.7" font-style="italic" font-size="19" font-family="Liberation Serif, serif">O</tspan><tspan x="371.7" dy="2.5" font-size="13" textLength="29.6" lengthAdjust="spacingAndGlyphs">ERA5</tspan><tspan x="403.9" dy="-2.5">)</tspan><tspan x="413.9">envelope</tspan></text>
<text y="533.6" font-size="17.3" font-family="Liberation Sans, sans-serif"><tspan x="568.1" font-style="italic">P</tspan><tspan x="577.6" font-weight="bold" font-size="18">.</tspan><tspan x="585.2">(</tspan><tspan x="592.9" font-style="italic" font-size="18">x</tspan><tspan x="608.2">|</tspan><tspan x="616.7" font-style="italic" font-size="19" font-family="Liberation Serif, serif">O</tspan><tspan x="630.7" dy="2.5" font-size="13" textLength="37.6" lengthAdjust="spacingAndGlyphs">IMERG</tspan><tspan x="670.9" dy="-2.5">)</tspan><tspan x="680.9">envelope</tspan></text>
</svg>
</body></html>
